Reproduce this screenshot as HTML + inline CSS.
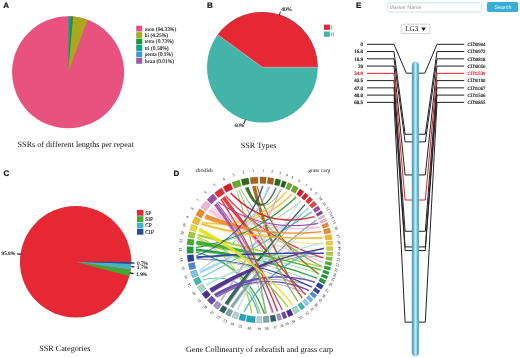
<!DOCTYPE html>
<html><head><meta charset="utf-8"><title>Figure</title>
<style>
html,body{margin:0;padding:0;background:#fff;}
body{width:520px;height:358px;overflow:hidden;font-family:"Liberation Serif",serif;}
svg{display:block;will-change:transform;opacity:0.999;}
svg text{text-rendering:geometricPrecision;}
</style></head><body>
<svg width="520" height="358" viewBox="0 0 520 358">
<rect width="520" height="358" fill="#fff"/>
<text x="3.2" y="8.1" font-family="Liberation Sans, sans-serif" font-weight="bold" font-size="8" fill="#111" stroke="#111" stroke-width="0.2">A</text>
<text x="207.0" y="7.6" font-family="Liberation Sans, sans-serif" font-weight="bold" font-size="8" fill="#111" stroke="#111" stroke-width="0.2">B</text>
<text x="3.4" y="176.2" font-family="Liberation Sans, sans-serif" font-weight="bold" font-size="8" fill="#111" stroke="#111" stroke-width="0.2">C</text>
<text x="173.5" y="175.8" font-family="Liberation Sans, sans-serif" font-weight="bold" font-size="8" fill="#111" stroke="#111" stroke-width="0.2">D</text>
<text x="355.9" y="7.6" font-family="Liberation Sans, sans-serif" font-weight="bold" font-size="8" fill="#111" stroke="#111" stroke-width="0.2">E</text>
<circle cx="68.1" cy="72.3" r="56.0" fill="#e8527f"/>
<path d="M68.10,72.30 L87.63,19.82 A56.0,56.0 0 0 0 73.09,16.52 Z" fill="#a8aa1c"/>
<path d="M68.10,72.30 L73.09,16.52 A56.0,56.0 0 0 0 70.53,16.35 Z" fill="#14963c"/>
<path d="M68.10,72.30 L70.53,16.35 A56.0,56.0 0 0 0 68.49,16.30 Z" fill="#12a07e"/>
<path d="M68.10,72.30 L68.49,16.30 A56.0,56.0 0 0 0 68.14,16.30 Z" fill="#3a9ad9"/>
<path d="M68.10,72.30 L68.14,16.30 A56.0,56.0 0 0 0 68.10,16.30 Z" fill="#9b59a8"/>
<rect x="136.2" y="25.70" width="6.0" height="5.8" fill="#e8527f"/>
<text x="144.8" y="30.50" font-family="Liberation Serif, serif" font-size="5.45" fill="#111" stroke="#111" stroke-width="0.1">mon (94.33%)</text>
<rect x="136.2" y="32.15" width="6.0" height="5.8" fill="#a8aa1c"/>
<text x="144.8" y="36.95" font-family="Liberation Serif, serif" font-size="5.45" fill="#111" stroke="#111" stroke-width="0.1">bi (4.25%)</text>
<rect x="136.2" y="38.60" width="6.0" height="5.8" fill="#14963c"/>
<text x="144.8" y="43.40" font-family="Liberation Serif, serif" font-size="5.45" fill="#111" stroke="#111" stroke-width="0.1">tetra (0.73%)</text>
<rect x="136.2" y="45.05" width="6.0" height="5.8" fill="#12a07e"/>
<text x="144.8" y="49.85" font-family="Liberation Serif, serif" font-size="5.45" fill="#111" stroke="#111" stroke-width="0.1">tri (0.58%)</text>
<rect x="136.2" y="51.50" width="6.0" height="5.8" fill="#3a9ad9"/>
<text x="144.8" y="56.30" font-family="Liberation Serif, serif" font-size="5.45" fill="#111" stroke="#111" stroke-width="0.1">penta (0.1%)</text>
<rect x="136.2" y="57.95" width="6.0" height="5.8" fill="#9b59a8"/>
<text x="144.8" y="62.75" font-family="Liberation Serif, serif" font-size="5.45" fill="#111" stroke="#111" stroke-width="0.1">hexa (0.01%)</text>
<text x="17.6" y="146.9" font-family="Liberation Serif, serif" font-size="8.15" fill="#111">SSRs of different lengths per repeat</text>
<circle cx="262.4" cy="67.25" r="55.35" fill="#45b4a8"/>
<path d="M262.40,67.25 L317.75,67.25 A55.35,55.35 0 0 0 217.62,34.72 Z" fill="#e52834"/>
<line x1="262.4" y1="67.25" x2="317.75" y2="67.25" stroke="#f3d9d6" stroke-width="0.5"/>
<line x1="262.4" y1="67.25" x2="217.62" y2="34.72" stroke="#f3d9d6" stroke-width="0.5"/>
<line x1="279.35" y1="15.08" x2="280.43" y2="11.76" stroke="#222" stroke-width="1.0"/>
<text x="281.3" y="10.9" font-family="Liberation Serif, serif" font-size="5.65" fill="#111" stroke="#111" stroke-width="0.12">40%</text>
<line x1="245.45" y1="119.42" x2="243.87" y2="124.27" stroke="#222" stroke-width="1.0"/>
<text x="234.5" y="126.9" font-family="Liberation Serif, serif" font-size="5.3" fill="#111" stroke="#111" stroke-width="0.12">60%</text>
<rect x="324" y="24.6" width="5.9" height="5.3" fill="#e52834"/>
<rect x="324" y="31.5" width="5.9" height="5.3" fill="#45b4a8"/>
<text x="330.9" y="29.3" font-family="Liberation Serif, serif" font-size="4.8" fill="#444">I</text>
<text x="330.9" y="36.0" font-family="Liberation Serif, serif" font-size="4.8" fill="#444">II</text>
<text x="240.8" y="147.9" font-family="Liberation Serif, serif" font-size="8.15" fill="#111">SSR Types</text>
<circle cx="75.6" cy="261.75" r="55.65" fill="#e52834"/>
<path d="M75.60,261.75 L129.32,276.27 A55.65,55.65 0 0 0 130.67,269.76 Z" fill="#46a630"/>
<path d="M75.60,261.75 L130.67,269.76 A55.65,55.65 0 0 0 131.21,263.85 Z" fill="#43b5c0"/>
<path d="M75.60,261.75 L131.21,263.85 A55.65,55.65 0 0 0 131.25,261.75 Z" fill="#2c4a9e"/>
<line x1="17.2" y1="253.9" x2="21.4" y2="254.2" stroke="#111" stroke-width="1.15"/>
<line x1="131.0" y1="263.0" x2="134.6" y2="263.0" stroke="#111" stroke-width="1.15"/>
<line x1="131.0" y1="266.8" x2="134.3" y2="266.9" stroke="#111" stroke-width="1.15"/>
<line x1="129.9" y1="272.9" x2="133.6" y2="273.6" stroke="#111" stroke-width="1.15"/>
<text x="1.5" y="255.4" font-family="Liberation Serif, serif" font-size="5.3" fill="#111" stroke="#111" stroke-width="0.12">95.8%</text>
<text x="137.0" y="264.7" font-family="Liberation Serif, serif" font-size="5.3" fill="#111" stroke="#111" stroke-width="0.12">0.7%</text>
<text x="137.0" y="268.8" font-family="Liberation Serif, serif" font-size="5.3" fill="#111" stroke="#111" stroke-width="0.12">1.7%</text>
<text x="136.2" y="275.9" font-family="Liberation Serif, serif" font-size="5.3" fill="#111" stroke="#111" stroke-width="0.12">1.9%</text>
<rect x="137.0" y="209.9" width="6.4" height="5.8" fill="#e52834"/>
<text x="145.2" y="214.65" font-family="Liberation Serif, serif" font-size="5.5" fill="#111" stroke="#111" stroke-width="0.1">SP</text>
<rect x="137.0" y="216.2" width="6.4" height="5.8" fill="#46a630"/>
<text x="145.2" y="220.95" font-family="Liberation Serif, serif" font-size="5.5" fill="#111" stroke="#111" stroke-width="0.1">SIP</text>
<rect x="137.0" y="222.55" width="6.4" height="5.8" fill="#43b5c0"/>
<text x="145.2" y="227.30" font-family="Liberation Serif, serif" font-size="5.5" fill="#111" stroke="#111" stroke-width="0.1">CP</text>
<rect x="137.0" y="228.9" width="6.4" height="5.8" fill="#2c4a9e"/>
<text x="145.2" y="233.65" font-family="Liberation Serif, serif" font-size="5.5" fill="#111" stroke="#111" stroke-width="0.1">CIP</text>
<text x="39.3" y="350.6" font-family="Liberation Serif, serif" font-size="8.15" fill="#111">SSR Categories</text>
<path d="M228.22,305.54 L230.78,301.80 L233.35,298.08 L235.95,294.38 L238.57,290.70 L241.22,287.04 L243.88,283.40 L246.57,279.78 L249.29,276.17 L252.02,272.59 L254.78,269.02 L257.56,265.47 L260.37,261.94 L263.19,258.43 L266.04,254.94 L268.92,251.47 L271.81,248.01 L274.73,244.58 L277.67,241.16 L280.64,237.76 L283.62,234.39 L286.63,231.03 L289.67,227.69 L292.72,224.36 L295.80,221.06 L298.90,217.77 L302.02,214.50 L305.16,211.25 L308.33,208.02 L307.83,207.53 L304.66,210.76 L301.52,214.02 L298.39,217.29 L295.29,220.58 L292.21,223.89 L289.16,227.22 L286.13,230.57 L283.12,233.94 L280.14,237.33 L277.18,240.73 L274.24,244.16 L271.32,247.60 L268.43,251.06 L265.56,254.54 L262.71,258.04 L259.88,261.56 L257.08,265.09 L254.30,268.65 L251.54,272.22 L248.81,275.81 L246.10,279.42 L243.41,283.05 L240.75,286.70 L238.10,290.37 L235.48,294.05 L232.89,297.76 L230.31,301.48 L227.76,305.22 Z" fill="#779795" fill-opacity="0.95" />
<path d="M195.90,251.58 L200.31,252.06 L204.71,252.58 L209.10,253.16 L213.47,253.78 L217.84,254.45 L222.18,255.17 L226.52,255.94 L230.84,256.76 L235.15,257.62 L239.45,258.54 L243.73,259.50 L248.00,260.51 L252.26,261.57 L256.51,262.68 L260.74,263.83 L264.96,265.04 L269.16,266.29 L273.35,267.59 L277.53,268.95 L281.70,270.35 L285.85,271.80 L289.99,273.30 L294.12,274.84 L298.23,276.43 L302.34,278.06 L306.43,279.74 L310.51,281.47 L314.57,283.25 L314.86,282.61 L310.78,280.83 L306.70,279.10 L302.60,277.41 L298.49,275.78 L294.37,274.19 L290.22,272.66 L286.07,271.18 L281.90,269.74 L277.73,268.36 L273.54,267.02 L269.33,265.73 L265.12,264.48 L260.89,263.29 L256.65,262.14 L252.39,261.05 L248.13,260.00 L243.85,259.00 L239.56,258.04 L235.25,257.14 L230.93,256.28 L226.60,255.47 L222.26,254.71 L217.91,254.00 L213.54,253.34 L209.16,252.73 L204.76,252.16 L200.36,251.64 L195.94,251.17 Z" fill="#6dbf7e" fill-opacity="0.95" />
<path d="M216.25,203.07 L218.92,206.67 L221.57,210.28 L224.18,213.92 L226.75,217.58 L229.29,221.25 L231.79,224.95 L234.26,228.67 L236.69,232.40 L239.08,236.16 L241.44,239.94 L243.77,243.74 L246.06,247.55 L248.31,251.39 L250.53,255.25 L252.71,259.13 L254.86,263.02 L256.97,266.94 L259.04,270.88 L261.08,274.84 L263.09,278.82 L265.05,282.82 L266.98,286.84 L268.88,290.88 L270.75,294.94 L272.58,299.01 L274.38,303.11 L276.15,307.23 L277.87,311.36 L278.52,311.10 L276.79,306.95 L275.02,302.83 L273.22,298.73 L271.39,294.65 L269.51,290.59 L267.60,286.55 L265.64,282.53 L263.66,278.53 L261.64,274.56 L259.58,270.60 L257.49,266.66 L255.36,262.75 L253.20,258.85 L251.01,254.98 L248.78,251.12 L246.51,247.28 L244.21,243.47 L241.87,239.67 L239.50,235.90 L237.09,232.14 L234.65,228.41 L232.17,224.69 L229.66,221.00 L227.11,217.32 L224.53,213.67 L221.91,210.03 L219.26,206.42 L216.57,202.83 Z" fill="#c18cc6" fill-opacity="0.95" />
<path d="M204.06,218.72 L208.17,220.25 L212.28,221.72 L216.41,223.13 L220.55,224.48 L224.69,225.77 L228.85,227.00 L233.02,228.17 L237.19,229.28 L241.38,230.33 L245.58,231.31 L249.79,232.24 L254.00,233.11 L258.23,233.92 L262.47,234.66 L266.72,235.35 L270.98,235.98 L275.25,236.54 L279.52,237.05 L283.81,237.49 L288.11,237.88 L292.42,238.20 L296.74,238.47 L301.07,238.67 L305.41,238.81 L309.76,238.89 L314.12,238.92 L318.49,238.88 L322.87,238.78 L322.85,238.08 L318.48,238.18 L314.12,238.22 L309.77,238.20 L305.43,238.11 L301.10,237.97 L296.78,237.77 L292.47,237.51 L288.17,237.19 L283.88,236.81 L279.60,236.37 L275.33,235.86 L271.07,235.30 L266.82,234.68 L262.58,234.00 L258.35,233.25 L254.13,232.45 L249.93,231.59 L245.73,230.66 L241.54,229.68 L237.36,228.63 L233.19,227.53 L229.03,226.36 L224.88,225.14 L220.75,223.85 L216.62,222.51 L212.50,221.10 L208.39,219.64 L204.30,218.11 Z" fill="#f5b275" fill-opacity="0.95" />
<path d="M196.60,259.49 L200.88,259.68 L205.13,259.93 L209.37,260.25 L213.59,260.65 L217.78,261.11 L221.96,261.65 L226.12,262.26 L230.25,262.94 L234.37,263.69 L238.46,264.51 L242.53,265.40 L246.59,266.36 L250.62,267.40 L254.63,268.51 L258.63,269.68 L262.60,270.93 L266.55,272.25 L270.48,273.64 L274.39,275.11 L278.28,276.64 L282.15,278.25 L285.99,279.93 L289.82,281.68 L293.63,283.49 L297.42,285.37 L301.20,287.32 L304.95,289.34 L308.68,291.43 L309.03,290.82 L305.29,288.72 L301.52,286.70 L297.74,284.74 L293.94,282.86 L290.11,281.04 L286.27,279.31 L282.40,277.66 L278.51,276.07 L274.60,274.56 L270.67,273.11 L266.73,271.74 L262.76,270.43 L258.77,269.20 L254.77,268.03 L250.74,266.94 L246.70,265.92 L242.63,264.97 L238.55,264.09 L234.44,263.29 L230.32,262.55 L226.17,261.88 L222.01,261.29 L217.82,260.76 L213.62,260.31 L209.40,259.93 L205.15,259.62 L200.89,259.38 L196.61,259.21 Z" fill="#7582bf" fill-opacity="0.95" />
<path d="M197.02,237.77 L200.43,239.52 L203.76,241.34 L207.00,243.23 L210.15,245.19 L213.21,247.23 L216.18,249.34 L219.06,251.52 L221.85,253.77 L224.55,256.10 L227.16,258.50 L229.69,260.97 L232.12,263.51 L234.47,266.12 L236.72,268.81 L238.89,271.57 L240.96,274.40 L242.95,277.30 L244.85,280.28 L246.66,283.33 L248.38,286.45 L250.01,289.64 L251.54,292.90 L252.99,296.24 L254.37,299.64 L255.65,303.12 L256.85,306.67 L257.96,310.29 L258.97,313.99 L259.65,313.81 L258.63,310.10 L257.51,306.46 L256.31,302.89 L255.02,299.39 L253.64,295.97 L252.16,292.62 L250.58,289.35 L248.92,286.15 L247.18,283.03 L245.34,279.97 L243.42,276.99 L241.41,274.09 L239.30,271.25 L237.12,268.49 L234.84,265.80 L232.47,263.18 L230.02,260.64 L227.47,258.17 L224.84,255.77 L222.12,253.45 L219.31,251.20 L216.41,249.02 L213.42,246.92 L210.35,244.88 L207.18,242.92 L203.93,241.04 L200.59,239.22 L197.16,237.48 Z" fill="#c3df74" fill-opacity="0.95" />
<path d="M221.43,198.76 L224.24,202.36 L227.05,205.96 L229.87,209.56 L232.69,213.15 L235.52,216.73 L238.36,220.31 L241.20,223.89 L244.05,227.46 L246.91,231.02 L249.77,234.58 L252.64,238.14 L255.51,241.69 L258.39,245.23 L261.28,248.77 L264.17,252.31 L267.07,255.84 L269.97,259.36 L272.88,262.88 L275.80,266.40 L278.72,269.91 L281.65,273.41 L284.58,276.92 L287.52,280.41 L290.48,283.90 L293.43,287.38 L296.40,290.85 L299.37,294.33 L302.34,297.79 L302.88,297.34 L299.90,293.87 L296.93,290.40 L293.97,286.93 L291.01,283.44 L288.06,279.96 L285.11,276.47 L282.17,272.98 L279.23,269.48 L276.30,265.98 L273.38,262.47 L270.46,258.96 L267.55,255.44 L264.64,251.92 L261.75,248.39 L258.85,244.86 L255.97,241.32 L253.09,237.77 L250.22,234.22 L247.35,230.67 L244.49,227.11 L241.64,223.54 L238.79,219.97 L235.95,216.40 L233.11,212.82 L230.29,209.23 L227.46,205.64 L224.65,202.04 L221.84,198.44 Z" fill="#ea787d" fill-opacity="0.95" />
<path d="M201.85,223.03 L205.65,223.64 L209.41,224.13 L213.14,224.52 L216.85,224.79 L220.53,224.95 L224.17,225.00 L227.79,224.94 L231.38,224.77 L234.94,224.48 L238.48,224.09 L241.98,223.58 L245.45,222.96 L248.89,222.24 L252.31,221.39 L255.70,220.44 L259.05,219.38 L262.38,218.21 L265.68,216.92 L268.95,215.52 L272.19,214.02 L275.41,212.40 L278.59,210.67 L281.75,208.83 L284.86,206.86 L287.95,204.79 L291.01,202.60 L294.04,200.30 L297.04,197.89 L296.59,197.35 L293.61,199.75 L290.60,202.03 L287.55,204.21 L284.48,206.28 L281.38,208.23 L278.26,210.08 L275.11,211.83 L271.92,213.47 L268.71,214.99 L265.47,216.40 L262.19,217.70 L258.89,218.88 L255.55,219.96 L252.18,220.92 L248.79,221.78 L245.36,222.52 L241.91,223.15 L238.42,223.67 L234.90,224.08 L231.36,224.38 L227.78,224.57 L224.17,224.64 L220.54,224.61 L216.87,224.46 L213.17,224.20 L209.44,223.83 L205.69,223.35 L201.90,222.76 Z" fill="#fad06e" fill-opacity="0.95" />
<path d="M196.05,245.25 L200.53,245.92 L205.01,246.62 L209.47,247.34 L213.94,248.09 L218.40,248.87 L222.85,249.67 L227.29,250.50 L231.73,251.36 L236.16,252.24 L240.59,253.15 L245.01,254.08 L249.42,255.05 L253.83,256.03 L258.23,257.05 L262.63,258.09 L267.02,259.16 L271.40,260.25 L275.78,261.37 L280.15,262.52 L284.51,263.69 L288.87,264.89 L293.22,266.12 L297.57,267.38 L301.91,268.65 L306.24,269.96 L310.57,271.29 L314.89,272.64 L319.20,274.03 L319.42,273.36 L315.10,271.98 L310.78,270.62 L306.44,269.29 L302.11,267.98 L297.76,266.70 L293.41,265.45 L289.05,264.23 L284.69,263.03 L280.32,261.86 L275.94,260.72 L271.56,259.60 L267.18,258.51 L262.78,257.45 L258.38,256.41 L253.98,255.39 L249.56,254.41 L245.15,253.45 L240.72,252.51 L236.29,251.61 L231.85,250.73 L227.41,249.87 L222.96,249.05 L218.51,248.24 L214.04,247.47 L209.58,246.72 L205.10,246.00 L200.62,245.30 L196.14,244.63 Z" fill="#82ca77" fill-opacity="0.95" />
<path d="M210.96,208.74 L214.67,210.72 L218.39,212.62 L222.13,214.43 L225.89,216.16 L229.67,217.81 L233.47,219.38 L237.28,220.87 L241.11,222.27 L244.96,223.59 L248.83,224.83 L252.72,225.98 L256.62,227.06 L260.55,228.05 L264.49,228.96 L268.45,229.79 L272.42,230.53 L276.42,231.19 L280.43,231.77 L284.46,232.27 L288.51,232.69 L292.58,233.02 L296.67,233.28 L300.77,233.45 L304.90,233.53 L309.04,233.53 L313.20,233.45 L317.37,233.28 L321.57,233.04 L321.52,232.34 L317.34,232.59 L313.17,232.75 L309.03,232.83 L304.90,232.83 L300.79,232.75 L296.70,232.59 L292.63,232.35 L288.58,232.02 L284.54,231.62 L280.52,231.13 L276.52,230.56 L272.53,229.90 L268.57,229.17 L264.62,228.35 L260.69,227.45 L256.78,226.46 L252.88,225.40 L249.01,224.25 L245.15,223.02 L241.31,221.71 L237.49,220.31 L233.68,218.84 L229.90,217.28 L226.13,215.64 L222.38,213.92 L218.64,212.11 L214.93,210.22 L211.23,208.25 Z" fill="#f9d9e9" fill-opacity="0.95" />
<path d="M198.40,232.00 L202.21,233.96 L205.97,235.98 L209.68,238.05 L213.34,240.18 L216.96,242.37 L220.52,244.61 L224.04,246.91 L227.52,249.26 L230.94,251.67 L234.32,254.13 L237.64,256.65 L240.92,259.23 L244.16,261.86 L247.34,264.54 L250.48,267.28 L253.57,270.08 L256.61,272.94 L259.60,275.85 L262.55,278.81 L265.45,281.83 L268.29,284.91 L271.09,288.04 L273.85,291.23 L276.56,294.47 L279.22,297.76 L281.83,301.12 L284.40,304.52 L286.92,307.99 L287.49,307.58 L284.96,304.11 L282.39,300.69 L279.77,297.33 L277.10,294.02 L274.38,290.77 L271.61,287.58 L268.80,284.45 L265.94,281.37 L263.02,278.34 L260.07,275.38 L257.06,272.46 L254.01,269.61 L250.91,266.80 L247.76,264.06 L244.56,261.37 L241.32,258.74 L238.02,256.16 L234.68,253.64 L231.30,251.17 L227.86,248.76 L224.38,246.40 L220.85,244.11 L217.27,241.86 L213.64,239.67 L209.97,237.54 L206.25,235.47 L202.48,233.45 L198.66,231.48 Z" fill="#eeea6e" fill-opacity="0.95" />
<path d="M233.39,308.19 L235.83,304.56 L238.30,300.98 L240.82,297.44 L243.39,293.94 L246.00,290.49 L248.65,287.08 L251.35,283.71 L254.09,280.39 L256.87,277.11 L259.70,273.88 L262.57,270.68 L265.49,267.54 L268.45,264.43 L271.45,261.37 L274.50,258.36 L277.59,255.39 L280.72,252.46 L283.90,249.57 L287.12,246.73 L290.39,243.94 L293.70,241.19 L297.06,238.48 L300.46,235.82 L303.90,233.19 L307.38,230.61 L310.90,228.07 L314.47,225.57 L318.09,223.12 L317.70,222.54 L314.08,224.99 L310.50,227.50 L306.96,230.04 L303.48,232.63 L300.03,235.26 L296.63,237.95 L293.28,240.67 L289.97,243.44 L286.71,246.26 L283.49,249.11 L280.31,252.01 L277.18,254.95 L274.09,257.94 L271.04,260.97 L268.04,264.04 L265.08,267.16 L262.17,270.32 L259.30,273.52 L256.47,276.77 L253.69,280.06 L250.95,283.39 L248.26,286.77 L245.61,290.19 L243.00,293.65 L240.44,297.16 L237.92,300.71 L235.44,304.30 L233.01,307.94 Z" fill="#abc6c6" fill-opacity="0.95" />
<path d="M208.25,212.15 L212.10,214.50 L215.97,216.81 L219.86,219.10 L223.76,221.35 L227.67,223.57 L231.60,225.76 L235.54,227.92 L239.50,230.05 L243.48,232.15 L247.47,234.22 L251.47,236.25 L255.49,238.26 L259.52,240.23 L263.57,242.18 L267.63,244.09 L271.70,245.97 L275.80,247.82 L279.90,249.65 L284.02,251.43 L288.16,253.19 L292.31,254.92 L296.47,256.62 L300.65,258.29 L304.85,259.92 L309.06,261.52 L313.28,263.09 L317.52,264.63 L321.78,266.13 L322.01,265.47 L317.76,263.97 L313.52,262.43 L309.30,260.86 L305.10,259.26 L300.91,257.64 L296.73,255.98 L292.57,254.29 L288.42,252.58 L284.28,250.83 L280.16,249.05 L276.06,247.23 L271.97,245.39 L267.89,243.52 L263.83,241.61 L259.79,239.68 L255.76,237.71 L251.74,235.71 L247.74,233.68 L243.75,231.62 L239.78,229.53 L235.83,227.41 L231.88,225.25 L227.95,223.07 L224.04,220.85 L220.14,218.61 L216.26,216.33 L212.39,214.02 L208.54,211.68 Z" fill="#f9d9e9" fill-opacity="0.95" />
<path d="M217.28,202.22 L220.61,204.47 L223.96,206.61 L227.34,208.66 L230.75,210.61 L234.18,212.47 L237.63,214.22 L241.11,215.88 L244.62,217.43 L248.14,218.89 L251.70,220.25 L255.28,221.51 L258.88,222.68 L262.51,223.74 L266.16,224.71 L269.84,225.58 L273.54,226.35 L277.27,227.02 L281.02,227.59 L284.80,228.06 L288.60,228.44 L292.42,228.72 L296.27,228.90 L300.15,228.98 L304.05,228.96 L307.98,228.83 L311.93,228.61 L315.90,228.28 L319.90,227.86 L319.82,227.17 L315.83,227.59 L311.88,227.91 L307.94,228.13 L304.04,228.26 L300.15,228.28 L296.30,228.22 L292.46,228.06 L288.65,227.80 L284.86,227.45 L281.10,226.99 L277.36,226.43 L273.65,225.78 L269.96,225.02 L266.29,224.17 L262.65,223.22 L259.03,222.17 L255.44,221.02 L251.87,219.78 L248.33,218.43 L244.81,216.99 L241.31,215.45 L237.84,213.80 L234.39,212.06 L230.96,210.23 L227.56,208.29 L224.19,206.25 L220.84,204.12 L217.51,201.89 Z" fill="#c18cc6" fill-opacity="0.95" />
<path d="M220.09,199.76 L222.45,203.56 L224.77,207.38 L227.06,211.21 L229.31,215.07 L231.51,218.94 L233.68,222.83 L235.82,226.74 L237.91,230.66 L239.96,234.61 L241.98,238.57 L243.95,242.54 L245.89,246.54 L247.79,250.55 L249.65,254.58 L251.47,258.63 L253.25,262.70 L255.00,266.78 L256.70,270.88 L258.37,275.00 L259.99,279.14 L261.58,283.29 L263.13,287.46 L264.64,291.65 L266.12,295.86 L267.55,300.08 L268.96,304.32 L270.32,308.58 L271.64,312.85 L272.31,312.65 L270.98,308.37 L269.62,304.10 L268.22,299.86 L266.78,295.63 L265.30,291.42 L263.77,287.23 L262.21,283.05 L260.61,278.90 L258.97,274.76 L257.29,270.64 L255.58,266.53 L253.82,262.45 L252.03,258.38 L250.20,254.33 L248.33,250.30 L246.42,246.28 L244.47,242.29 L242.49,238.31 L240.47,234.35 L238.40,230.40 L236.30,226.47 L234.16,222.57 L231.99,218.67 L229.77,214.80 L227.52,210.95 L225.22,207.11 L222.89,203.29 L220.52,199.48 Z" fill="#ea787d" fill-opacity="0.95" />
<path d="M199.48,270.89 L203.05,268.71 L206.55,266.48 L209.99,264.18 L213.37,261.83 L216.68,259.41 L219.93,256.94 L223.11,254.42 L226.23,251.83 L229.29,249.18 L232.28,246.48 L235.21,243.72 L238.08,240.90 L240.88,238.02 L243.62,235.08 L246.30,232.09 L248.91,229.04 L251.46,225.93 L253.95,222.76 L256.37,219.53 L258.73,216.25 L261.03,212.90 L263.26,209.50 L265.43,206.04 L267.53,202.52 L269.56,198.94 L271.53,195.30 L273.44,191.60 L275.28,187.85 L274.65,187.55 L272.81,191.29 L270.91,194.97 L268.95,198.60 L266.92,202.17 L264.83,205.68 L262.69,209.14 L260.48,212.54 L258.21,215.88 L255.87,219.17 L253.47,222.39 L251.01,225.56 L248.48,228.67 L245.88,231.73 L243.22,234.72 L240.50,237.66 L237.71,240.54 L234.86,243.36 L231.95,246.12 L228.97,248.82 L225.93,251.47 L222.82,254.06 L219.65,256.59 L216.42,259.07 L213.12,261.48 L209.76,263.84 L206.33,266.14 L202.84,268.38 L199.29,270.57 Z" fill="#c3e3f3" fill-opacity="0.95" />
<path d="M217.38,297.82 L220.48,295.96 L223.59,294.23 L226.70,292.63 L229.82,291.16 L232.94,289.82 L236.06,288.60 L239.19,287.52 L242.32,286.56 L245.46,285.73 L248.60,285.03 L251.75,284.46 L254.90,284.02 L258.06,283.71 L261.22,283.53 L264.38,283.47 L267.55,283.55 L270.73,283.75 L273.91,284.08 L277.09,284.54 L280.28,285.13 L283.48,285.85 L286.67,286.70 L289.88,287.67 L293.09,288.77 L296.31,290.00 L299.53,291.35 L302.76,292.83 L305.99,294.45 L306.31,293.83 L303.06,292.20 L299.81,290.71 L296.57,289.35 L293.33,288.11 L290.09,287.01 L286.86,286.04 L283.63,285.20 L280.41,284.49 L277.20,283.91 L273.99,283.46 L270.78,283.14 L267.58,282.94 L264.39,282.88 L261.20,282.94 L258.01,283.14 L254.83,283.46 L251.66,283.92 L248.50,284.50 L245.33,285.21 L242.18,286.05 L239.03,287.02 L235.88,288.12 L232.74,289.35 L229.61,290.71 L226.48,292.19 L223.36,293.81 L220.25,295.55 L217.13,297.43 Z" fill="#9c88c6" fill-opacity="0.95" />
<path d="M196.48,258.58 L201.02,258.24 L205.55,257.93 L210.08,257.63 L214.62,257.36 L219.15,257.12 L223.68,256.89 L228.22,256.69 L232.75,256.51 L237.28,256.35 L241.82,256.21 L246.35,256.10 L250.89,256.01 L255.42,255.94 L259.96,255.90 L264.49,255.87 L269.03,255.87 L273.56,255.89 L278.10,255.94 L282.63,256.01 L287.17,256.10 L291.70,256.21 L296.24,256.36 L300.77,256.51 L305.31,256.68 L309.85,256.87 L314.38,257.09 L318.92,257.32 L323.46,257.58 L323.50,256.88 L318.96,256.62 L314.42,256.39 L309.88,256.17 L305.34,255.98 L300.80,255.81 L296.26,255.68 L291.72,255.57 L287.18,255.49 L282.64,255.42 L278.10,255.37 L273.56,255.35 L269.03,255.35 L264.49,255.37 L259.95,255.41 L255.42,255.47 L250.88,255.55 L246.34,255.66 L241.81,255.79 L237.27,255.94 L232.74,256.11 L228.20,256.31 L223.66,256.53 L219.13,256.77 L214.60,257.03 L210.06,257.31 L205.53,257.62 L200.99,257.95 L196.46,258.30 Z" fill="#7582bf" fill-opacity="0.95" />
<path d="M195.96,248.38 L200.15,247.66 L204.31,246.87 L208.44,246.00 L212.54,245.07 L216.61,244.06 L220.64,242.98 L224.64,241.83 L228.62,240.61 L232.56,239.32 L236.46,237.96 L240.34,236.52 L244.19,235.02 L248.00,233.44 L251.78,231.80 L255.53,230.08 L259.25,228.29 L262.94,226.43 L266.59,224.50 L270.22,222.50 L273.81,220.43 L277.37,218.28 L280.90,216.07 L284.40,213.79 L287.86,211.42 L291.29,208.99 L294.69,206.48 L298.05,203.90 L301.39,201.25 L300.95,200.71 L297.62,203.35 L294.27,205.92 L290.88,208.42 L287.46,210.85 L284.01,213.20 L280.53,215.50 L277.02,217.72 L273.48,219.88 L269.91,221.96 L266.30,223.97 L262.66,225.91 L258.99,227.77 L255.29,229.57 L251.55,231.29 L247.79,232.95 L243.99,234.53 L240.16,236.04 L236.29,237.48 L232.40,238.85 L228.47,240.15 L224.51,241.38 L220.52,242.53 L216.49,243.62 L212.44,244.63 L208.35,245.58 L204.23,246.45 L200.07,247.25 L195.89,247.98 Z" fill="#6dbf7e" fill-opacity="0.95" />
<path d="M196.26,256.37 L199.91,254.97 L203.49,253.48 L206.99,251.92 L210.41,250.28 L213.76,248.56 L217.04,246.75 L220.24,244.87 L223.36,242.91 L226.41,240.86 L229.38,238.74 L232.28,236.54 L235.10,234.25 L237.85,231.89 L240.52,229.45 L243.12,226.92 L245.64,224.32 L248.09,221.63 L250.46,218.87 L252.76,216.02 L254.98,213.10 L257.13,210.10 L259.20,207.01 L261.20,203.85 L263.11,200.60 L264.94,197.26 L266.70,193.85 L268.38,190.36 L269.98,186.79 L269.34,186.51 L267.74,190.06 L266.07,193.54 L264.32,196.94 L262.50,200.25 L260.60,203.49 L258.63,206.65 L256.60,209.73 L254.48,212.74 L252.29,215.66 L250.02,218.51 L247.68,221.27 L245.26,223.96 L242.76,226.56 L240.18,229.09 L237.54,231.54 L234.81,233.91 L232.01,236.19 L229.13,238.40 L226.18,240.53 L223.15,242.58 L220.04,244.55 L216.86,246.44 L213.60,248.25 L210.26,249.98 L206.85,251.63 L203.37,253.20 L199.80,254.69 L196.17,256.11 Z" fill="#7582bf" fill-opacity="0.95" />
<path d="M200.51,273.73 L204.64,271.81 L208.75,269.88 L212.86,267.93 L216.95,265.96 L221.04,263.97 L225.11,261.96 L229.18,259.93 L233.23,257.89 L237.27,255.82 L241.31,253.74 L245.33,251.63 L249.34,249.51 L253.34,247.37 L257.34,245.21 L261.32,243.03 L265.29,240.83 L269.25,238.61 L273.20,236.38 L277.14,234.12 L281.07,231.85 L284.99,229.56 L288.91,227.25 L292.81,224.92 L296.69,222.56 L300.57,220.18 L304.43,217.79 L308.28,215.37 L312.13,212.94 L311.75,212.35 L307.91,214.78 L304.06,217.19 L300.20,219.59 L296.33,221.96 L292.45,224.32 L288.56,226.66 L284.66,228.99 L280.75,231.30 L276.83,233.59 L272.90,235.86 L268.96,238.10 L265.01,240.33 L261.05,242.54 L257.08,244.73 L253.09,246.90 L249.10,249.05 L245.10,251.19 L241.08,253.30 L237.05,255.39 L233.02,257.47 L228.97,259.53 L224.91,261.56 L220.85,263.58 L216.77,265.58 L212.68,267.56 L208.58,269.52 L204.47,271.46 L200.35,273.38 Z" fill="#c3e3f3" fill-opacity="0.95" />
<path d="M197.33,236.44 L201.76,237.53 L206.19,238.64 L210.62,239.75 L215.04,240.88 L219.46,242.01 L223.88,243.15 L228.30,244.31 L232.71,245.47 L237.12,246.64 L241.53,247.83 L245.94,249.02 L250.34,250.22 L254.74,251.43 L259.14,252.66 L263.53,253.89 L267.92,255.13 L272.31,256.38 L276.69,257.65 L281.08,258.92 L285.46,260.21 L289.83,261.50 L294.21,262.81 L298.58,264.12 L302.95,265.43 L307.32,266.76 L311.68,268.09 L316.05,269.43 L320.41,270.78 L320.62,270.11 L316.25,268.76 L311.89,267.42 L307.52,266.09 L303.15,264.76 L298.78,263.45 L294.40,262.16 L290.01,260.88 L285.63,259.61 L281.24,258.35 L276.85,257.09 L272.46,255.85 L268.07,254.61 L263.67,253.38 L259.27,252.17 L254.87,250.96 L250.46,249.76 L246.06,248.57 L241.65,247.39 L237.23,246.22 L232.82,245.06 L228.40,243.91 L223.98,242.77 L219.56,241.64 L215.13,240.52 L210.70,239.41 L206.27,238.30 L201.84,237.21 L197.40,236.13 Z" fill="#c3df74" fill-opacity="0.95" />
<path d="M213.96,205.29 L216.58,208.81 L219.13,212.35 L221.64,215.91 L224.09,219.50 L226.48,223.12 L228.82,226.76 L231.11,230.43 L233.34,234.13 L235.52,237.86 L237.64,241.61 L239.71,245.38 L241.72,249.18 L243.68,253.01 L245.58,256.87 L247.43,260.75 L249.23,264.66 L250.97,268.59 L252.65,272.56 L254.28,276.54 L255.86,280.56 L257.38,284.60 L258.84,288.67 L260.25,292.76 L261.61,296.88 L262.92,301.02 L264.18,305.19 L265.38,309.39 L266.53,313.61 L267.21,313.43 L266.06,309.20 L264.85,304.99 L263.59,300.81 L262.28,296.66 L260.91,292.54 L259.48,288.44 L257.99,284.37 L256.45,280.33 L254.86,276.31 L253.21,272.32 L251.51,268.36 L249.75,264.42 L247.94,260.51 L246.08,256.63 L244.16,252.77 L242.19,248.94 L240.16,245.14 L238.08,241.36 L235.95,237.61 L233.76,233.88 L231.51,230.19 L229.22,226.52 L226.86,222.87 L224.46,219.25 L222.00,215.66 L219.48,212.10 L216.91,208.56 L214.29,205.05 Z" fill="#c18cc6" fill-opacity="0.95" />
<path d="M212.31,292.78 L215.99,290.50 L219.70,288.28 L223.42,286.13 L227.17,284.04 L230.94,282.02 L234.73,280.06 L238.54,278.16 L242.38,276.32 L246.24,274.55 L250.12,272.84 L254.03,271.20 L257.96,269.62 L261.91,268.10 L265.88,266.64 L269.88,265.25 L273.89,263.93 L277.94,262.66 L282.00,261.46 L286.09,260.33 L290.20,259.26 L294.33,258.25 L298.48,257.30 L302.66,256.42 L306.86,255.60 L311.08,254.84 L315.33,254.15 L319.60,253.52 L323.89,252.96 L323.80,252.26 L319.50,252.83 L315.22,253.46 L310.96,254.15 L306.73,254.91 L302.52,255.73 L298.33,256.62 L294.17,257.57 L290.03,258.58 L285.91,259.66 L281.81,260.80 L277.74,262.01 L273.69,263.28 L269.66,264.61 L265.65,266.00 L261.67,267.46 L257.71,268.99 L253.77,270.57 L249.86,272.22 L245.96,273.94 L242.10,275.71 L238.25,277.55 L234.43,279.46 L230.62,281.43 L226.85,283.46 L223.09,285.55 L219.36,287.71 L215.65,289.93 L211.96,292.22 Z" fill="#8976b4" fill-opacity="0.95" />
<path d="M197.09,237.46 L200.90,239.15 L204.65,240.91 L208.35,242.74 L211.99,244.63 L215.58,246.59 L219.11,248.61 L222.58,250.70 L226.00,252.86 L229.36,255.08 L232.67,257.37 L235.91,259.72 L239.11,262.14 L242.25,264.63 L245.33,267.18 L248.35,269.80 L251.32,272.48 L254.23,275.23 L257.09,278.05 L259.89,280.93 L262.63,283.88 L265.32,286.90 L267.95,289.98 L270.52,293.13 L273.05,296.33 L275.52,299.60 L277.94,302.94 L280.30,306.35 L282.61,309.81 L283.19,309.43 L280.88,305.95 L278.51,302.54 L276.09,299.19 L273.60,295.91 L271.07,292.69 L268.47,289.55 L265.80,286.47 L263.09,283.46 L260.32,280.52 L257.50,277.64 L254.62,274.83 L251.69,272.08 L248.70,269.41 L245.65,266.79 L242.56,264.25 L239.40,261.76 L236.19,259.35 L232.92,257.00 L229.60,254.72 L226.23,252.50 L222.79,250.36 L219.31,248.27 L215.76,246.26 L212.16,244.31 L208.51,242.42 L204.80,240.60 L201.03,238.85 L197.21,237.17 Z" fill="#c3df74" fill-opacity="0.95" />
<path d="M200.95,225.01 L205.24,226.28 L209.54,227.51 L213.84,228.69 L218.15,229.84 L222.46,230.93 L226.78,231.99 L231.11,233.00 L235.45,233.97 L239.79,234.89 L244.14,235.77 L248.49,236.61 L252.86,237.40 L257.23,238.15 L261.60,238.86 L265.99,239.52 L270.38,240.14 L274.78,240.72 L279.18,241.25 L283.59,241.74 L288.01,242.19 L292.43,242.59 L296.86,242.96 L301.30,243.28 L305.75,243.54 L310.20,243.75 L314.66,243.93 L319.13,244.06 L323.60,244.14 L323.61,243.44 L319.15,243.36 L314.69,243.23 L310.23,243.06 L305.79,242.84 L301.35,242.58 L296.91,242.29 L292.49,241.96 L288.07,241.58 L283.65,241.16 L279.24,240.69 L274.84,240.18 L270.45,239.62 L266.06,239.02 L261.68,238.38 L257.30,237.69 L252.94,236.95 L248.57,236.18 L244.22,235.36 L239.87,234.49 L235.53,233.59 L231.19,232.63 L226.87,231.64 L222.54,230.60 L218.23,229.52 L213.92,228.39 L209.62,227.22 L205.32,226.00 L201.03,224.74 Z" fill="#fad06e" fill-opacity="0.95" />
<path d="M244.70,187.78 L245.89,190.18 L247.08,192.41 L248.28,194.47 L249.49,196.35 L250.71,198.07 L251.95,199.61 L253.19,200.99 L254.45,202.19 L255.72,203.23 L257.01,204.09 L258.31,204.78 L259.62,205.30 L260.95,205.64 L262.29,205.80 L263.64,205.79 L265.00,205.60 L266.36,205.24 L267.73,204.70 L269.11,203.99 L270.50,203.10 L271.89,202.05 L273.29,200.82 L274.69,199.42 L276.10,197.85 L277.51,196.10 L278.93,194.18 L280.36,192.10 L281.80,189.84 L281.20,189.47 L279.78,191.71 L278.36,193.78 L276.96,195.67 L275.56,197.39 L274.18,198.94 L272.81,200.32 L271.46,201.53 L270.12,202.57 L268.79,203.43 L267.47,204.13 L266.16,204.65 L264.87,205.00 L263.59,205.19 L262.32,205.21 L261.05,205.06 L259.80,204.75 L258.54,204.26 L257.30,203.61 L256.05,202.78 L254.81,201.78 L253.58,200.61 L252.35,199.27 L251.13,197.75 L249.92,196.06 L248.71,194.20 L247.52,192.16 L246.33,189.95 L245.15,187.57 Z" fill="#779e6c" fill-opacity="0.95" />
<path d="M216.25,296.79 L219.52,294.86 L222.80,293.05 L226.09,291.35 L229.39,289.77 L232.70,288.31 L236.03,286.97 L239.37,285.74 L242.72,284.63 L246.08,283.64 L249.45,282.76 L252.84,282.01 L256.23,281.36 L259.64,280.84 L263.06,280.43 L266.49,280.14 L269.94,279.96 L273.39,279.91 L276.86,279.97 L280.34,280.14 L283.83,280.44 L287.33,280.85 L290.84,281.38 L294.37,282.02 L297.91,282.78 L301.46,283.65 L305.03,284.64 L308.60,285.74 L312.19,286.96 L312.43,286.30 L308.82,285.07 L305.22,283.96 L301.64,282.97 L298.07,282.09 L294.51,281.34 L290.95,280.70 L287.42,280.19 L283.89,279.79 L280.38,279.51 L276.88,279.34 L273.39,279.29 L269.91,279.36 L266.45,279.55 L263.00,279.85 L259.56,280.27 L256.14,280.81 L252.72,281.46 L249.32,282.23 L245.93,283.12 L242.56,284.13 L239.20,285.25 L235.84,286.49 L232.51,287.85 L229.18,289.32 L225.87,290.91 L222.57,292.62 L219.28,294.45 L216.00,296.39 Z" fill="#9c88c6" fill-opacity="0.95" />
<path d="M224.74,196.47 L227.71,199.62 L230.71,202.70 L233.75,205.73 L236.84,208.69 L239.96,211.60 L243.12,214.46 L246.32,217.25 L249.56,219.99 L252.84,222.67 L256.16,225.29 L259.51,227.85 L262.91,230.36 L266.34,232.81 L269.82,235.20 L273.33,237.53 L276.88,239.80 L280.47,242.02 L284.10,244.18 L287.77,246.28 L291.48,248.33 L295.23,250.31 L299.02,252.25 L302.84,254.12 L306.71,255.92 L310.62,257.67 L314.56,259.37 L318.55,261.00 L322.57,262.58 L322.82,261.92 L318.81,260.35 L314.83,258.72 L310.90,257.03 L307.00,255.29 L303.14,253.48 L299.32,251.63 L295.54,249.72 L291.80,247.75 L288.09,245.72 L284.43,243.63 L280.80,241.48 L277.21,239.28 L273.66,237.02 L270.16,234.70 L266.68,232.32 L263.25,229.88 L259.86,227.39 L256.51,224.84 L253.19,222.23 L249.92,219.56 L246.68,216.83 L243.48,214.05 L240.32,211.21 L237.20,208.31 L234.12,205.35 L231.08,202.33 L228.08,199.26 L225.11,196.13 Z" fill="#ea787d" fill-opacity="0.95" />
<path d="M195.91,252.91 L199.41,253.83 L202.82,254.85 L206.13,255.96 L209.36,257.16 L212.50,258.46 L215.55,259.85 L218.51,261.33 L221.38,262.90 L224.16,264.57 L226.85,266.34 L229.45,268.19 L231.96,270.14 L234.39,272.18 L236.72,274.32 L238.96,276.55 L241.12,278.87 L243.19,281.28 L245.16,283.79 L247.05,286.39 L248.85,289.09 L250.56,291.88 L252.18,294.76 L253.71,297.74 L255.16,300.80 L256.52,303.96 L257.80,307.21 L258.98,310.56 L260.08,314.00 L260.75,313.80 L259.65,310.34 L258.45,306.97 L257.17,303.69 L255.80,300.51 L254.34,297.43 L252.78,294.44 L251.13,291.54 L249.39,288.74 L247.56,286.04 L245.65,283.43 L243.64,280.91 L241.55,278.48 L239.37,276.15 L237.10,273.92 L234.74,271.78 L232.29,269.73 L229.76,267.78 L227.13,265.92 L224.42,264.15 L221.62,262.48 L218.73,260.91 L215.75,259.43 L212.68,258.04 L209.52,256.75 L206.28,255.55 L202.94,254.44 L199.52,253.43 L196.01,252.51 Z" fill="#6dbf7e" fill-opacity="0.95" />
<path d="M200.44,273.34 L204.54,271.40 L208.61,269.43 L212.68,267.44 L216.72,265.42 L220.75,263.37 L224.76,261.29 L228.76,259.19 L232.74,257.05 L236.70,254.89 L240.65,252.71 L244.58,250.49 L248.49,248.25 L252.38,245.98 L256.26,243.68 L260.12,241.35 L263.96,238.99 L267.78,236.59 L271.60,234.19 L275.41,231.80 L279.22,229.37 L283.00,226.92 L286.78,224.44 L290.53,221.94 L294.27,219.41 L298.00,216.85 L301.70,214.26 L305.40,211.65 L309.07,209.01 L308.31,207.96 L304.64,210.59 L300.96,213.20 L297.26,215.78 L293.54,218.33 L289.81,220.86 L286.06,223.36 L282.29,225.83 L278.51,228.28 L274.72,230.70 L270.91,233.09 L267.06,235.42 L263.19,237.71 L259.30,239.98 L255.41,242.22 L251.50,244.44 L247.58,246.64 L243.64,248.81 L239.68,250.96 L235.72,253.07 L231.74,255.17 L227.74,257.23 L223.73,259.27 L219.70,261.29 L215.66,263.27 L211.60,265.23 L207.53,267.17 L203.44,269.07 L199.34,270.95 Z" fill="#a3d5ee" fill-opacity="0.95" />
<path d="M195.82,252.50 L199.38,253.45 L202.85,254.50 L206.24,255.64 L209.55,256.87 L212.77,258.19 L215.90,259.61 L218.96,261.12 L221.92,262.71 L224.81,264.40 L227.61,266.19 L230.33,268.06 L232.96,270.03 L235.51,272.08 L237.98,274.23 L240.36,276.47 L242.66,278.81 L244.88,281.23 L247.01,283.75 L249.06,286.36 L251.03,289.06 L252.91,291.85 L254.70,294.74 L256.42,297.72 L258.06,300.78 L259.62,303.94 L261.10,307.19 L262.50,310.53 L263.81,313.96 L265.03,313.52 L263.70,310.05 L262.29,306.67 L260.80,303.38 L259.22,300.19 L257.55,297.08 L255.80,294.08 L253.95,291.17 L252.02,288.35 L250.02,285.63 L247.92,283.00 L245.75,280.46 L243.49,278.02 L241.15,275.66 L238.72,273.41 L236.22,271.24 L233.62,269.17 L230.95,267.19 L228.19,265.31 L225.35,263.51 L222.43,261.82 L219.42,260.21 L216.33,258.70 L213.16,257.28 L209.90,255.96 L206.56,254.73 L203.14,253.59 L199.64,252.55 L196.05,251.59 Z" fill="#1f9e3a" fill-opacity="0.95" />
<path d="M211.39,208.37 L215.04,210.28 L218.70,212.11 L222.38,213.85 L226.08,215.49 L229.79,217.04 L233.52,218.50 L237.27,219.87 L241.03,221.15 L244.81,222.33 L248.60,223.43 L252.41,224.43 L256.24,225.34 L260.08,226.15 L263.94,226.88 L267.82,227.51 L271.71,228.05 L275.62,228.50 L279.54,228.86 L283.48,229.13 L287.44,229.30 L291.41,229.39 L295.40,229.38 L299.40,229.28 L303.42,229.08 L307.46,228.80 L311.51,228.42 L315.58,227.95 L319.66,227.39 L319.47,226.10 L315.41,226.66 L311.37,227.12 L307.35,227.50 L303.34,227.78 L299.35,227.98 L295.38,228.08 L291.42,228.09 L287.48,228.01 L283.55,227.84 L279.64,227.58 L275.75,227.22 L271.87,226.78 L268.01,226.24 L264.16,225.61 L260.33,224.90 L256.52,224.09 L252.72,223.19 L248.94,222.19 L245.17,221.11 L241.42,219.93 L237.69,218.67 L233.97,217.31 L230.27,215.86 L226.58,214.32 L222.91,212.69 L219.25,210.97 L215.62,209.15 L211.99,207.25 Z" fill="#f6c6de" fill-opacity="0.95" />
<path d="M252.15,186.60 L253.24,190.90 L254.38,195.18 L255.57,199.43 L256.81,203.66 L258.10,207.87 L259.45,212.05 L260.84,216.22 L262.29,220.35 L263.79,224.47 L265.35,228.56 L266.95,232.62 L268.61,236.66 L270.32,240.68 L272.08,244.67 L273.90,248.64 L275.78,252.57 L277.73,256.48 L279.69,260.38 L281.63,264.29 L283.63,268.17 L285.68,272.03 L287.78,275.88 L289.93,279.70 L292.14,283.49 L294.39,287.27 L296.69,291.02 L299.04,294.76 L301.45,298.47 L302.54,297.75 L300.14,294.06 L297.79,290.34 L295.50,286.60 L293.26,282.83 L291.06,279.05 L288.92,275.25 L286.83,271.42 L284.79,267.57 L282.79,263.70 L280.85,259.81 L279.02,255.86 L277.29,251.88 L275.58,247.89 L273.92,243.88 L272.30,239.86 L270.73,235.81 L269.21,231.75 L267.74,227.67 L266.32,223.57 L264.94,219.45 L263.62,215.31 L262.34,211.14 L261.12,206.96 L259.94,202.76 L258.82,198.54 L257.74,194.30 L256.72,190.04 L255.74,185.76 Z" fill="#a5641a" fill-opacity="0.95" />
<path d="M208.70,211.79 L212.54,214.12 L216.40,216.41 L220.28,218.66 L224.17,220.87 L228.09,223.04 L232.02,225.16 L235.97,227.25 L239.93,229.29 L243.91,231.29 L247.91,233.25 L251.93,235.17 L255.97,237.05 L260.02,238.88 L264.10,240.67 L268.19,242.41 L272.30,244.11 L276.44,245.74 L280.57,247.38 L284.70,249.04 L288.84,250.66 L293.00,252.25 L297.18,253.79 L301.38,255.29 L305.59,256.76 L309.83,258.19 L314.08,259.57 L318.35,260.92 L322.63,262.23 L323.01,260.98 L318.73,259.68 L314.48,258.33 L310.24,256.95 L306.02,255.53 L301.81,254.07 L297.63,252.57 L293.46,251.03 L289.31,249.45 L285.18,247.83 L281.06,246.18 L276.99,244.42 L272.96,242.57 L268.94,240.71 L264.94,238.82 L260.95,236.90 L256.98,234.94 L253.02,232.95 L249.09,230.92 L245.17,228.85 L241.27,226.75 L237.39,224.61 L233.53,222.43 L229.68,220.21 L225.85,217.96 L222.05,215.67 L218.25,213.34 L214.48,210.98 L210.73,208.57 Z" fill="#f6c6de" fill-opacity="0.95" />
<path d="M202.27,277.69 L206.30,275.56 L210.32,273.42 L214.33,271.26 L218.33,269.08 L222.33,266.89 L226.31,264.69 L230.29,262.47 L234.26,260.24 L238.22,257.99 L242.17,255.73 L246.11,253.45 L250.05,251.16 L253.97,248.86 L257.89,246.54 L261.80,244.20 L265.70,241.85 L269.59,239.49 L273.47,237.11 L277.34,234.72 L281.21,232.31 L285.07,229.90 L288.92,227.47 L292.76,225.02 L296.59,222.54 L300.40,220.05 L304.21,217.54 L308.00,215.02 L311.79,212.48 L311.07,211.40 L307.28,213.94 L303.49,216.46 L299.69,218.96 L295.88,221.45 L292.06,223.92 L288.24,226.40 L284.41,228.86 L280.58,231.31 L276.73,233.74 L272.87,236.15 L269.01,238.55 L265.13,240.93 L261.25,243.30 L257.36,245.65 L253.45,247.99 L249.54,250.31 L245.62,252.61 L241.69,254.91 L237.76,257.18 L233.81,259.45 L229.85,261.69 L225.89,263.93 L221.91,266.14 L217.93,268.35 L213.94,270.54 L209.94,272.71 L205.93,274.87 L201.91,277.01 Z" fill="#3fb8b0" fill-opacity="0.95" />
<path d="M199.41,270.51 L202.88,268.34 L206.28,266.11 L209.61,263.82 L212.86,261.46 L216.04,259.05 L219.15,256.58 L222.19,254.04 L225.15,251.44 L228.04,248.79 L230.85,246.07 L233.59,243.29 L236.26,240.45 L238.86,237.55 L241.38,234.59 L243.83,231.56 L246.21,228.48 L248.51,225.33 L250.74,222.13 L252.90,218.86 L254.99,215.53 L257.00,212.14 L258.95,208.70 L260.81,205.19 L262.60,201.61 L264.30,197.97 L265.94,194.27 L267.50,190.51 L268.99,186.69 L267.77,186.23 L266.29,190.03 L264.74,193.76 L263.12,197.43 L261.43,201.04 L259.66,204.59 L257.83,208.09 L255.93,211.53 L253.95,214.90 L251.90,218.22 L249.78,221.48 L247.58,224.67 L245.31,227.80 L242.96,230.88 L240.54,233.89 L238.05,236.85 L235.49,239.74 L232.85,242.57 L230.13,245.34 L227.35,248.06 L224.49,250.71 L221.55,253.30 L218.54,255.83 L215.46,258.31 L212.31,260.72 L209.08,263.07 L205.78,265.36 L202.40,267.59 L198.95,269.76 Z" fill="#a3d5ee" fill-opacity="0.95" />
<path d="M196.83,238.47 L200.11,240.18 L203.30,241.96 L206.38,243.82 L209.36,245.74 L212.25,247.74 L215.03,249.81 L217.71,251.95 L220.29,254.16 L222.77,256.44 L225.16,258.80 L227.44,261.23 L229.62,263.73 L231.70,266.30 L233.68,268.94 L235.56,271.65 L237.34,274.44 L239.01,277.30 L240.59,280.23 L242.07,283.23 L243.45,286.30 L244.72,289.45 L245.90,292.66 L246.97,295.95 L247.97,299.31 L248.87,302.73 L249.66,306.24 L250.36,309.81 L250.96,313.46 L252.24,313.26 L251.64,309.58 L250.93,305.97 L250.13,302.43 L249.22,298.96 L248.21,295.56 L247.09,292.24 L245.86,289.00 L244.53,285.83 L243.11,282.73 L241.58,279.71 L239.96,276.76 L238.24,273.88 L236.42,271.08 L234.50,268.34 L232.48,265.69 L230.36,263.10 L228.14,260.59 L225.82,258.15 L223.40,255.79 L220.88,253.50 L218.26,251.28 L215.54,249.14 L212.73,247.07 L209.81,245.07 L206.79,243.15 L203.68,241.30 L200.47,239.52 L197.15,237.82 Z" fill="#a4cf2a" fill-opacity="0.95" />
<path d="M225.21,196.25 L228.15,199.34 L231.13,202.38 L234.16,205.34 L237.23,208.25 L240.34,211.09 L243.49,213.86 L246.68,216.57 L249.91,219.22 L253.18,221.80 L256.50,224.32 L259.85,226.77 L263.25,229.15 L266.69,231.48 L270.16,233.73 L273.68,235.93 L277.25,238.06 L280.85,240.12 L284.49,242.12 L288.18,244.05 L291.90,245.92 L295.67,247.73 L299.48,249.47 L303.33,251.15 L307.22,252.76 L311.15,254.30 L315.12,255.78 L319.14,257.19 L323.20,258.54 L323.60,257.30 L319.56,255.96 L315.57,254.56 L311.61,253.09 L307.70,251.55 L303.83,249.95 L300.00,248.29 L296.21,246.57 L292.46,244.78 L288.75,242.93 L285.09,241.01 L281.46,239.03 L277.87,236.98 L274.33,234.87 L270.83,232.69 L267.36,230.45 L263.94,228.15 L260.56,225.78 L257.22,223.34 L253.92,220.84 L250.66,218.28 L247.44,215.65 L244.27,212.96 L241.13,210.20 L238.03,207.38 L234.98,204.49 L231.96,201.54 L228.99,198.53 L226.06,195.45 Z" fill="#e03038" fill-opacity="0.95" />
<path d="M203.31,280.03 L206.37,279.49 L209.34,279.07 L212.23,278.80 L215.03,278.65 L217.75,278.63 L220.39,278.74 L222.94,278.98 L225.41,279.36 L227.80,279.86 L230.10,280.49 L232.32,281.25 L234.45,282.15 L236.50,283.17 L238.47,284.31 L240.36,285.59 L242.17,287.00 L243.89,288.54 L245.53,290.20 L247.09,292.00 L248.57,293.93 L249.97,295.99 L251.28,298.18 L252.52,300.50 L253.69,302.94 L254.79,305.52 L255.80,308.23 L256.73,311.07 L257.58,314.05 L258.84,313.71 L257.97,310.69 L257.03,307.80 L255.99,305.04 L254.88,302.41 L253.68,299.91 L252.38,297.55 L251.00,295.32 L249.53,293.23 L247.99,291.26 L246.36,289.43 L244.65,287.73 L242.85,286.17 L240.98,284.74 L239.02,283.44 L236.98,282.27 L234.86,281.24 L232.66,280.35 L230.38,279.58 L228.01,278.96 L225.57,278.46 L223.05,278.10 L220.45,277.87 L217.77,277.77 L215.00,277.81 L212.16,277.98 L209.24,278.28 L206.24,278.71 L203.16,279.27 Z" fill="#3fb8b0" fill-opacity="0.95" />
<path d="M197.38,236.12 L201.82,237.20 L206.26,238.29 L210.70,239.37 L215.14,240.46 L219.58,241.55 L224.01,242.65 L228.45,243.75 L232.89,244.85 L237.32,245.95 L241.76,247.05 L246.19,248.16 L250.62,249.27 L255.05,250.39 L259.49,251.50 L263.92,252.62 L268.35,253.73 L272.78,254.84 L277.21,255.97 L281.63,257.13 L286.05,258.29 L290.47,259.46 L294.89,260.62 L299.31,261.79 L303.73,262.97 L308.14,264.15 L312.56,265.33 L316.97,266.51 L321.38,267.70 L321.72,266.44 L317.31,265.26 L312.89,264.07 L308.48,262.89 L304.06,261.71 L299.64,260.54 L295.22,259.37 L290.80,258.20 L286.38,257.03 L281.96,255.87 L277.54,254.71 L273.12,253.54 L268.71,252.34 L264.29,251.16 L259.88,249.99 L255.46,248.82 L251.04,247.66 L246.62,246.50 L242.19,245.34 L237.77,244.19 L233.34,243.04 L228.92,241.90 L224.49,240.76 L220.06,239.62 L215.63,238.49 L211.20,237.36 L206.77,236.23 L202.34,235.11 L197.91,233.99 Z" fill="#a4cf2a" fill-opacity="0.95" />
<path d="M256.42,186.13 L257.57,190.05 L258.81,193.91 L260.12,197.71 L261.51,201.46 L262.98,205.16 L264.53,208.80 L266.16,212.38 L267.87,215.91 L269.66,219.38 L271.53,222.80 L273.47,226.16 L275.50,229.47 L277.61,232.72 L279.79,235.91 L282.06,239.05 L284.40,242.13 L286.82,245.16 L289.33,248.13 L291.91,251.04 L294.57,253.90 L297.31,256.71 L300.13,259.46 L303.03,262.15 L306.01,264.79 L309.07,267.36 L312.20,269.89 L315.42,272.35 L318.71,274.77 L319.47,273.71 L316.20,271.31 L313.01,268.87 L309.89,266.36 L306.86,263.80 L303.90,261.19 L301.02,258.52 L298.22,255.80 L295.50,253.02 L292.86,250.18 L290.29,247.29 L287.81,244.35 L285.40,241.35 L283.08,238.29 L280.83,235.18 L278.66,232.02 L276.57,228.79 L274.55,225.52 L272.62,222.18 L270.76,218.80 L268.99,215.35 L267.29,211.85 L265.67,208.30 L264.13,204.69 L262.67,201.02 L261.28,197.30 L259.98,193.52 L258.75,189.69 L257.60,185.80 Z" fill="#a5641a" fill-opacity="0.95" />
<path d="M216.53,202.78 L219.25,206.38 L221.93,209.99 L224.59,213.63 L227.22,217.28 L229.82,220.95 L232.39,224.63 L234.93,228.34 L237.44,232.06 L239.92,235.80 L242.38,239.56 L244.80,243.33 L247.19,247.12 L249.56,250.93 L251.90,254.76 L254.20,258.61 L256.48,262.47 L258.72,266.35 L260.94,270.25 L263.13,274.17 L265.29,278.10 L267.42,282.05 L269.51,286.03 L271.58,290.01 L273.63,294.01 L275.65,298.03 L277.64,302.07 L279.61,306.12 L281.54,310.19 L282.72,309.64 L280.78,305.56 L278.81,301.50 L276.82,297.45 L274.79,293.43 L272.73,289.42 L270.64,285.43 L268.51,281.47 L266.36,277.52 L264.18,273.58 L261.97,269.67 L259.73,265.77 L257.47,261.89 L255.17,258.03 L252.85,254.18 L250.49,250.36 L248.11,246.55 L245.70,242.76 L243.26,238.98 L240.79,235.23 L238.29,231.49 L235.77,227.77 L233.21,224.06 L230.63,220.38 L228.01,216.71 L225.37,213.06 L222.70,209.43 L220.00,205.81 L217.27,202.22 Z" fill="#a04fa8" fill-opacity="0.95" />
<path d="M202.29,222.23 L205.89,222.79 L209.45,223.24 L212.96,223.56 L216.43,223.76 L219.86,223.84 L223.25,223.80 L226.60,223.64 L229.90,223.36 L233.16,222.95 L236.38,222.42 L239.55,221.78 L242.69,221.01 L245.78,220.12 L248.83,219.10 L251.83,217.97 L254.80,216.71 L257.72,215.34 L260.60,213.84 L263.43,212.22 L266.23,210.48 L268.98,208.62 L271.69,206.64 L274.36,204.53 L276.97,202.29 L279.53,199.92 L282.05,197.43 L284.53,194.83 L286.96,192.10 L285.97,191.25 L283.57,193.95 L281.12,196.52 L278.63,198.98 L276.10,201.32 L273.53,203.53 L270.92,205.64 L268.28,207.64 L265.59,209.51 L262.85,211.26 L260.07,212.89 L257.25,214.39 L254.38,215.78 L251.46,217.05 L248.50,218.20 L245.50,219.22 L242.45,220.13 L239.36,220.92 L236.22,221.58 L233.04,222.13 L229.81,222.55 L226.54,222.86 L223.22,223.04 L219.86,223.10 L216.46,223.05 L213.01,222.87 L209.52,222.57 L205.98,222.15 L202.39,221.61 Z" fill="#f8b820" fill-opacity="0.95" />
<path d="M202.02,222.80 L205.72,223.38 L209.38,223.84 L213.02,224.19 L216.61,224.41 L220.17,224.53 L223.70,224.52 L227.19,224.40 L230.64,224.17 L234.06,223.81 L237.44,223.34 L240.79,222.76 L244.10,222.05 L247.38,221.23 L250.62,220.30 L253.82,219.24 L256.99,218.07 L260.13,216.78 L263.23,215.38 L266.29,213.86 L269.32,212.22 L272.31,210.47 L275.27,208.61 L278.19,206.62 L281.07,204.49 L283.90,202.26 L286.70,199.90 L289.46,197.43 L292.19,194.84 L291.28,193.91 L288.58,196.47 L285.85,198.92 L283.08,201.25 L280.28,203.46 L277.44,205.56 L274.58,207.56 L271.68,209.45 L268.74,211.21 L265.77,212.87 L262.76,214.40 L259.71,215.82 L256.62,217.12 L253.49,218.31 L250.33,219.38 L247.13,220.33 L243.89,221.17 L240.62,221.89 L237.31,222.50 L233.96,222.99 L230.57,223.36 L227.14,223.62 L223.68,223.76 L220.18,223.79 L216.64,223.70 L213.07,223.49 L209.46,223.17 L205.81,222.73 L202.12,222.18 Z" fill="#f8b820" fill-opacity="0.95" />
<path d="M195.76,251.17 L200.21,251.62 L204.65,252.11 L209.08,252.63 L213.51,253.20 L217.92,253.81 L222.33,254.45 L226.73,255.14 L231.12,255.86 L235.50,256.62 L239.88,257.42 L244.24,258.26 L248.60,259.14 L252.95,260.05 L257.29,261.01 L261.62,262.00 L265.95,263.02 L270.27,264.07 L274.57,265.19 L278.86,266.38 L283.13,267.62 L287.40,268.90 L291.66,270.21 L295.91,271.57 L300.15,272.96 L304.38,274.40 L308.60,275.87 L312.81,277.39 L317.01,278.94 L317.47,277.72 L313.25,276.17 L309.03,274.65 L304.80,273.17 L300.56,271.73 L296.31,270.33 L292.05,268.97 L287.78,267.65 L283.50,266.37 L279.21,265.13 L274.92,263.93 L270.62,262.73 L266.32,261.55 L262.01,260.41 L257.68,259.32 L253.35,258.27 L249.00,257.27 L244.64,256.30 L240.28,255.38 L235.90,254.50 L231.51,253.66 L227.11,252.86 L222.71,252.10 L218.29,251.38 L213.86,250.70 L209.42,250.07 L204.97,249.47 L200.51,248.91 L196.04,248.39 Z" fill="#1f9e3a" fill-opacity="0.95" />
<path d="M244.60,312.23 L246.53,308.82 L248.53,305.50 L250.60,302.26 L252.73,299.10 L254.93,296.03 L257.20,293.05 L259.53,290.14 L261.93,287.32 L264.40,284.59 L266.93,281.94 L269.54,279.37 L272.20,276.88 L274.94,274.48 L277.74,272.17 L280.61,269.93 L283.55,267.78 L286.55,265.71 L289.62,263.73 L292.76,261.83 L295.97,260.01 L299.24,258.28 L302.58,256.63 L305.99,255.06 L309.47,253.58 L313.01,252.19 L316.62,250.87 L320.30,249.65 L324.05,248.50 L323.69,247.25 L319.91,248.41 L316.20,249.65 L312.55,250.97 L308.97,252.38 L305.46,253.87 L302.02,255.45 L298.64,257.11 L295.33,258.85 L292.09,260.68 L288.92,262.60 L285.81,264.60 L282.77,266.68 L279.80,268.85 L276.90,271.11 L274.06,273.45 L271.29,275.87 L268.59,278.38 L265.96,280.97 L263.39,283.65 L260.90,286.41 L258.47,289.26 L256.11,292.19 L253.81,295.21 L251.59,298.31 L249.43,301.49 L247.34,304.76 L245.32,308.11 L243.37,311.55 Z" fill="#4bb9c6" fill-opacity="0.95" />
<path d="M221.87,198.49 L224.68,202.08 L227.50,205.67 L230.34,209.24 L233.19,212.80 L236.05,216.35 L238.93,219.89 L241.82,223.41 L244.72,226.93 L247.64,230.43 L250.57,233.92 L253.52,237.40 L256.48,240.86 L259.45,244.31 L262.44,247.75 L265.44,251.18 L268.47,254.58 L271.52,257.96 L274.55,261.36 L277.55,264.79 L280.56,268.21 L283.59,271.62 L286.62,275.01 L289.67,278.40 L292.74,281.77 L295.81,285.14 L298.90,288.49 L302.00,291.83 L305.11,295.16 L306.06,294.27 L302.95,290.95 L299.85,287.61 L296.77,284.26 L293.70,280.90 L290.64,277.53 L287.59,274.14 L284.56,270.75 L281.54,267.35 L278.53,263.93 L275.53,260.51 L272.60,257.04 L269.70,253.52 L266.81,250.01 L263.92,246.50 L261.04,242.97 L258.18,239.44 L255.32,235.91 L252.47,232.36 L249.64,228.80 L246.81,225.24 L244.00,221.66 L241.20,218.08 L238.41,214.48 L235.64,210.88 L232.87,207.26 L230.12,203.64 L227.38,200.01 L224.66,196.36 Z" fill="#e03038" fill-opacity="0.95" />
<path d="M238.36,310.24 L240.26,306.13 L242.17,302.04 L244.12,297.96 L246.08,293.90 L248.08,289.85 L250.10,285.82 L252.14,281.80 L254.21,277.80 L256.31,273.81 L258.43,269.83 L260.58,265.87 L262.75,261.93 L264.95,258.00 L267.17,254.08 L269.42,250.18 L271.70,246.29 L274.00,242.41 L276.32,238.55 L278.67,234.71 L281.05,230.88 L283.45,227.06 L285.87,223.26 L288.32,219.47 L290.81,215.70 L293.32,211.95 L295.86,208.21 L298.42,204.49 L301.01,200.78 L299.95,200.04 L297.35,203.75 L294.78,207.48 L292.24,211.22 L289.72,214.98 L287.23,218.76 L284.76,222.54 L282.30,226.33 L279.87,230.14 L277.48,233.97 L275.10,237.81 L272.76,241.67 L270.44,245.54 L268.14,249.43 L265.87,253.33 L263.63,257.25 L261.41,261.18 L259.22,265.13 L257.06,269.09 L254.92,273.07 L252.80,277.06 L250.72,281.07 L248.65,285.09 L246.62,289.13 L244.61,293.18 L242.62,297.24 L240.66,301.33 L238.73,305.42 L236.82,309.53 Z" fill="#cde0e0" fill-opacity="0.95" />
<path d="M232.88,308.17 L235.33,304.53 L237.83,300.92 L240.36,297.35 L242.93,293.81 L245.54,290.31 L248.19,286.85 L250.88,283.43 L253.61,280.04 L256.37,276.69 L259.18,273.38 L262.03,270.10 L264.91,266.86 L267.84,263.66 L270.80,260.49 L273.80,257.35 L276.83,254.25 L279.90,251.17 L283.03,248.16 L286.23,245.22 L289.47,242.31 L292.75,239.45 L296.08,236.63 L299.44,233.84 L302.84,231.09 L306.28,228.38 L309.76,225.71 L313.28,223.07 L316.84,220.48 L316.08,219.42 L312.51,222.03 L308.98,224.67 L305.48,227.35 L302.03,230.07 L298.61,232.83 L295.24,235.63 L291.91,238.47 L288.61,241.34 L285.36,244.25 L282.14,247.20 L278.93,250.16 L275.73,253.13 L272.59,256.15 L269.48,259.21 L266.42,262.32 L263.40,265.47 L260.42,268.66 L257.49,271.89 L254.59,275.17 L251.73,278.48 L248.91,281.83 L246.13,285.22 L243.39,288.66 L240.69,292.13 L238.04,295.64 L235.42,299.20 L232.84,302.79 L230.30,306.42 Z" fill="#7fa8a8" fill-opacity="0.95" />
<path d="M227.68,305.34 L230.24,301.59 L232.81,297.84 L235.39,294.11 L237.99,290.39 L240.61,286.68 L243.24,282.98 L245.89,279.30 L248.55,275.62 L251.22,271.96 L253.91,268.30 L256.62,264.66 L259.34,261.03 L262.07,257.41 L264.82,253.79 L267.58,250.19 L270.34,246.59 L273.11,242.99 L275.93,239.43 L278.82,235.93 L281.72,232.44 L284.64,228.96 L287.58,225.50 L290.53,222.05 L293.50,218.61 L296.49,215.18 L299.49,211.77 L302.51,208.37 L305.54,204.98 L304.57,204.11 L301.54,207.50 L298.51,210.91 L295.51,214.33 L292.52,217.76 L289.55,221.20 L286.59,224.66 L283.65,228.13 L280.72,231.61 L277.82,235.10 L274.92,238.61 L271.99,242.08 L269.04,245.54 L266.12,249.02 L263.22,252.53 L260.34,256.05 L257.48,259.59 L254.64,263.14 L251.82,266.71 L249.01,270.29 L246.23,273.88 L243.45,277.49 L240.70,281.12 L237.96,284.76 L235.24,288.41 L232.54,292.07 L229.85,295.75 L227.18,299.45 L224.52,303.15 Z" fill="#2f5f5c" fill-opacity="0.95" />
<path d="M206.81,285.84 L210.79,283.81 L214.78,281.81 L218.79,279.85 L222.82,277.93 L226.85,276.05 L230.90,274.21 L234.97,272.41 L239.05,270.64 L243.15,268.92 L247.25,267.23 L251.38,265.59 L255.51,263.98 L259.66,262.41 L263.83,260.88 L268.01,259.39 L272.20,257.94 L276.41,256.52 L280.63,255.15 L284.87,253.81 L289.12,252.51 L293.38,251.24 L297.66,250.01 L301.95,248.83 L306.27,247.70 L310.59,246.62 L314.94,245.58 L319.29,244.57 L323.66,243.61 L323.39,242.34 L319.01,243.31 L314.64,244.31 L310.28,245.36 L305.94,246.44 L301.62,247.57 L297.30,248.71 L293.00,249.88 L288.70,251.10 L284.43,252.37 L280.17,253.67 L275.92,255.01 L271.69,256.40 L267.47,257.82 L263.26,259.29 L259.07,260.79 L254.89,262.34 L250.73,263.92 L246.58,265.55 L242.44,267.22 L238.32,268.92 L234.21,270.67 L230.12,272.45 L226.04,274.28 L221.98,276.14 L217.93,278.04 L213.89,279.99 L209.87,281.97 L205.86,284.00 Z" fill="#b3dfd9" fill-opacity="0.95" />
<path d="M204.67,218.29 L208.73,219.78 L212.80,221.19 L216.88,222.52 L220.97,223.78 L225.06,224.96 L229.16,226.07 L233.28,227.10 L237.39,228.06 L241.52,228.94 L245.66,229.74 L249.80,230.47 L253.95,231.12 L258.10,231.69 L262.27,232.18 L266.44,232.59 L270.62,232.92 L274.80,233.14 L278.99,233.35 L283.18,233.58 L287.38,233.73 L291.59,233.81 L295.81,233.81 L300.03,233.75 L304.27,233.61 L308.52,233.39 L312.78,233.11 L317.04,232.75 L321.32,232.32 L321.18,231.02 L316.92,231.45 L312.68,231.81 L308.44,232.10 L304.22,232.31 L300.00,232.45 L295.80,232.51 L291.60,232.51 L287.41,232.43 L283.24,232.28 L279.07,232.05 L274.92,231.67 L270.79,231.15 L266.67,230.59 L262.56,229.97 L258.47,229.29 L254.38,228.54 L250.31,227.72 L246.26,226.83 L242.21,225.87 L238.17,224.85 L234.15,223.75 L230.14,222.59 L226.14,221.35 L222.15,220.05 L218.17,218.67 L214.21,217.22 L210.25,215.71 L206.31,214.12 Z" fill="#f08a2c" fill-opacity="0.95" />
<path d="M221.67,301.15 L224.14,297.35 L226.59,293.54 L229.02,289.71 L231.42,285.87 L233.79,282.02 L236.14,278.15 L238.46,274.27 L240.76,270.38 L243.03,266.47 L245.27,262.55 L247.49,258.61 L249.68,254.66 L251.85,250.70 L253.99,246.72 L256.10,242.73 L258.19,238.73 L260.25,234.71 L262.29,230.67 L264.29,226.63 L266.27,222.57 L268.23,218.49 L270.15,214.40 L272.05,210.30 L273.95,206.19 L275.82,202.07 L277.66,197.93 L279.48,193.78 L281.27,189.62 L280.07,189.11 L278.28,193.26 L276.47,197.41 L274.63,201.53 L272.77,205.65 L270.88,209.75 L268.94,213.83 L266.98,217.89 L264.99,221.94 L262.99,225.98 L260.95,230.00 L258.90,234.01 L256.81,238.01 L254.71,241.99 L252.58,245.96 L250.42,249.92 L248.24,253.86 L246.03,257.79 L243.80,261.71 L241.54,265.61 L239.26,269.50 L236.95,273.37 L234.62,277.23 L232.26,281.08 L229.87,284.91 L227.46,288.73 L225.03,292.53 L222.57,296.32 L220.08,300.10 Z" fill="#c2b1db" fill-opacity="0.95" />
<path d="M196.53,259.22 L200.86,259.36 L205.17,259.57 L209.47,259.85 L213.75,260.19 L218.01,260.60 L222.26,261.07 L226.49,261.60 L230.70,262.21 L234.90,262.87 L239.08,263.61 L243.25,264.40 L247.40,265.27 L251.53,266.19 L255.64,267.19 L259.74,268.24 L263.82,269.37 L267.89,270.56 L271.94,271.81 L275.97,273.13 L279.99,274.52 L283.98,275.98 L287.96,277.50 L291.93,279.08 L295.89,280.71 L299.83,282.40 L303.75,284.16 L307.66,285.99 L311.55,287.87 L312.13,286.71 L308.22,284.81 L304.29,282.98 L300.35,281.21 L296.39,279.51 L292.41,277.88 L288.42,276.32 L284.40,274.84 L280.37,273.42 L276.33,272.07 L272.27,270.77 L268.19,269.54 L264.10,268.38 L260.00,267.28 L255.87,266.24 L251.74,265.27 L247.59,264.37 L243.42,263.53 L239.24,262.75 L235.04,262.04 L230.82,261.40 L226.59,260.82 L222.35,260.30 L218.08,259.85 L213.81,259.46 L209.51,259.14 L205.21,258.89 L200.88,258.70 L196.54,258.57 Z" fill="#2c3f9e" fill-opacity="0.95" />
<path d="M195.99,244.62 L200.48,245.29 L204.98,245.98 L209.47,246.69 L213.95,247.41 L218.44,248.15 L222.92,248.91 L227.40,249.68 L231.87,250.47 L236.34,251.27 L240.81,252.09 L245.28,252.93 L249.74,253.78 L254.20,254.64 L258.66,255.52 L263.12,256.41 L267.58,257.30 L272.04,258.19 L276.48,259.15 L280.90,260.20 L285.32,261.28 L289.74,262.37 L294.15,263.48 L298.55,264.60 L302.96,265.75 L307.36,266.91 L311.75,268.09 L316.14,269.29 L320.53,270.50 L320.88,269.25 L316.49,268.03 L312.09,266.83 L307.69,265.65 L303.29,264.49 L298.88,263.34 L294.47,262.22 L290.05,261.11 L285.63,260.01 L281.21,258.94 L276.78,257.88 L272.37,256.76 L267.97,255.61 L263.55,254.49 L259.13,253.41 L254.70,252.35 L250.27,251.31 L245.83,250.29 L241.38,249.30 L236.93,248.32 L232.48,247.37 L228.02,246.43 L223.55,245.51 L219.08,244.62 L214.61,243.74 L210.13,242.88 L205.65,242.04 L201.16,241.21 L196.67,240.41 Z" fill="#3fae2e" fill-opacity="0.95" />
<path d="M215.62,296.69 L218.96,294.74 L222.31,292.89 L225.67,291.14 L229.05,289.50 L232.45,287.97 L235.86,286.55 L239.29,285.23 L242.73,284.02 L246.19,282.91 L249.66,281.91 L253.15,281.01 L256.66,280.22 L260.18,279.54 L263.72,278.96 L267.28,278.48 L270.86,278.10 L274.45,277.81 L278.07,277.67 L281.70,277.69 L285.34,277.82 L289.00,278.05 L292.68,278.39 L296.37,278.85 L300.07,279.41 L303.79,280.07 L307.52,280.85 L311.27,281.74 L315.03,282.73 L315.38,281.48 L311.59,280.48 L307.80,279.58 L304.04,278.80 L300.28,278.12 L296.54,277.56 L292.82,277.10 L289.10,276.76 L285.41,276.52 L281.72,276.39 L278.05,276.37 L274.40,276.41 L270.75,276.52 L267.11,276.76 L263.48,277.12 L259.87,277.59 L256.26,278.17 L252.67,278.87 L249.09,279.68 L245.52,280.61 L241.96,281.64 L238.42,282.79 L234.89,284.05 L231.37,285.42 L227.87,286.90 L224.38,288.49 L220.91,290.20 L217.44,292.01 L213.99,293.94 Z" fill="#6848a8" fill-opacity="0.95" />
<path d="M197.11,237.13 L201.00,238.82 L204.84,240.57 L208.63,242.37 L212.38,244.25 L216.07,246.18 L219.72,248.17 L223.31,250.23 L226.86,252.35 L230.36,254.53 L233.81,256.77 L237.22,259.08 L240.57,261.44 L243.88,263.87 L247.13,266.36 L250.34,268.92 L253.50,271.53 L256.61,274.21 L259.67,276.95 L262.68,279.75 L265.65,282.61 L268.56,285.54 L271.42,288.53 L274.24,291.58 L277.02,294.68 L279.75,297.85 L282.44,301.07 L285.07,304.36 L287.66,307.71 L288.70,306.92 L286.10,303.55 L283.44,300.25 L280.74,297.01 L277.99,293.82 L275.20,290.71 L272.34,287.66 L269.43,284.69 L266.47,281.77 L263.47,278.91 L260.42,276.12 L257.33,273.39 L254.18,270.72 L250.99,268.11 L247.75,265.56 L244.47,263.08 L241.13,260.66 L237.75,258.30 L234.32,256.00 L230.85,253.77 L227.32,251.59 L223.75,249.48 L220.13,247.44 L216.46,245.45 L212.74,243.53 L208.98,241.67 L205.17,239.87 L201.31,238.13 L197.40,236.46 Z" fill="#a4cf2a" fill-opacity="0.95" />
<path d="M211.62,292.47 L215.33,290.18 L219.07,287.95 L222.83,285.77 L226.61,283.64 L230.40,281.56 L234.23,279.54 L238.07,277.57 L241.93,275.65 L245.82,273.79 L249.72,271.97 L253.65,270.21 L257.60,268.50 L261.57,266.84 L265.56,265.22 L269.57,263.66 L273.60,262.13 L277.64,260.64 L281.73,259.25 L285.86,258.01 L290.02,256.82 L294.19,255.68 L298.39,254.60 L302.61,253.58 L306.84,252.61 L311.10,251.70 L315.38,250.84 L319.68,250.03 L323.99,249.28 L323.78,248.00 L319.45,248.75 L315.13,249.56 L310.84,250.42 L306.56,251.34 L302.31,252.31 L298.08,253.34 L293.86,254.43 L289.67,255.56 L285.50,256.76 L281.35,258.01 L277.19,259.23 L273.03,260.45 L268.89,261.75 L264.78,263.12 L260.69,264.55 L256.62,266.05 L252.56,267.60 L248.53,269.22 L244.52,270.89 L240.52,272.63 L236.55,274.42 L232.59,276.27 L228.66,278.18 L224.74,280.14 L220.85,282.17 L216.97,284.25 L213.11,286.39 L209.28,288.58 Z" fill="#4a2d8c" fill-opacity="0.95" />
<path d="M214.14,204.89 L216.82,208.41 L219.46,211.96 L222.05,215.53 L224.60,219.13 L227.10,222.75 L229.56,226.39 L231.98,230.06 L234.36,233.75 L236.69,237.46 L238.99,241.20 L241.23,244.96 L243.44,248.75 L245.61,252.56 L247.73,256.39 L249.81,260.24 L251.86,264.12 L253.87,268.01 L255.82,271.95 L257.68,275.92 L259.50,279.92 L261.27,283.94 L263.01,287.98 L264.69,292.05 L266.34,296.14 L267.94,300.25 L269.49,304.39 L271.00,308.55 L272.47,312.74 L273.70,312.32 L272.23,308.12 L270.71,303.94 L269.15,299.79 L267.55,295.66 L265.90,291.56 L264.20,287.48 L262.47,283.42 L260.69,279.38 L258.86,275.37 L256.99,271.39 L255.11,267.41 L253.21,263.43 L251.26,259.49 L249.26,255.57 L247.21,251.68 L245.11,247.81 L242.96,243.96 L240.77,240.14 L238.54,236.34 L236.25,232.57 L233.93,228.82 L231.55,225.09 L229.13,221.38 L226.67,217.70 L224.16,214.04 L221.61,210.41 L219.01,206.80 L216.36,203.21 Z" fill="#a04fa8" fill-opacity="0.95" />
<path d="M236.33,190.37 L237.69,194.70 L239.02,199.04 L240.33,203.38 L241.61,207.72 L242.87,212.08 L244.10,216.43 L245.31,220.80 L246.49,225.17 L247.65,229.54 L248.79,233.92 L249.89,238.31 L250.98,242.70 L252.04,247.10 L253.07,251.50 L254.08,255.91 L255.07,260.33 L256.03,264.75 L256.96,269.17 L257.87,273.61 L258.75,278.05 L259.61,282.49 L260.43,286.94 L261.24,291.40 L262.04,295.85 L262.82,300.32 L263.57,304.79 L264.30,309.26 L265.00,313.74 L266.29,313.54 L265.58,309.05 L264.85,304.57 L264.10,300.10 L263.32,295.63 L262.52,291.16 L261.68,286.71 L260.80,282.26 L259.91,277.81 L258.99,273.38 L258.05,268.94 L257.09,264.52 L256.10,260.10 L255.09,255.68 L254.06,251.27 L253.00,246.87 L251.91,242.47 L250.81,238.08 L249.67,233.69 L248.52,229.31 L247.34,224.94 L246.13,220.57 L244.91,216.21 L243.65,211.85 L242.38,207.50 L241.07,203.15 L239.75,198.81 L238.40,194.48 L237.02,190.15 Z" fill="#80b54d" fill-opacity="0.95" />
<path d="M216.97,297.56 L220.15,295.68 L223.34,293.91 L226.53,292.27 L229.73,290.75 L232.94,289.36 L236.16,288.09 L239.39,286.94 L242.63,285.91 L245.87,285.01 L249.12,284.23 L252.38,283.57 L255.65,283.03 L258.92,282.62 L262.21,282.33 L265.50,282.16 L268.80,282.12 L272.11,282.19 L275.42,282.40 L278.75,282.72 L282.09,283.16 L285.43,283.73 L288.78,284.43 L292.14,285.24 L295.51,286.17 L298.89,287.22 L302.29,288.40 L305.69,289.70 L309.10,291.12 L309.61,289.93 L306.17,288.49 L302.73,287.18 L299.30,285.99 L295.88,284.92 L292.47,283.98 L289.06,283.17 L285.66,282.49 L282.27,281.93 L278.89,281.49 L275.52,281.17 L272.16,280.98 L268.80,280.91 L265.46,280.97 L262.12,281.15 L258.79,281.45 L255.48,281.88 L252.17,282.43 L248.87,283.11 L245.58,283.91 L242.30,284.83 L239.03,285.87 L235.77,287.04 L232.52,288.34 L229.28,289.75 L226.05,291.30 L222.83,292.96 L219.61,294.75 L216.41,296.66 Z" fill="#6848a8" fill-opacity="0.95" />
<path d="M238.28,189.69 L240.08,193.85 L241.89,198.01 L243.73,202.16 L245.59,206.29 L247.48,210.41 L249.38,214.52 L251.32,218.61 L253.27,222.70 L255.25,226.77 L257.25,230.83 L259.28,234.87 L261.32,238.91 L263.39,242.93 L265.49,246.94 L267.61,250.94 L269.75,254.93 L271.91,258.90 L274.10,262.87 L276.30,266.82 L278.53,270.76 L280.79,274.69 L283.06,278.60 L285.36,282.51 L287.70,286.39 L290.06,290.26 L292.44,294.12 L294.85,297.96 L297.29,301.80 L298.38,301.10 L295.95,297.27 L293.55,293.43 L291.17,289.58 L288.81,285.72 L286.47,281.84 L284.15,277.96 L281.84,274.07 L279.56,270.17 L277.30,266.25 L275.07,262.32 L272.86,258.38 L270.68,254.42 L268.52,250.45 L266.38,246.47 L264.27,242.48 L262.18,238.47 L260.12,234.45 L258.07,230.42 L256.06,226.37 L254.06,222.31 L252.09,218.24 L250.14,214.16 L248.22,210.06 L246.32,205.96 L244.44,201.84 L242.59,197.70 L240.75,193.56 L238.95,189.40 Z" fill="#80b54d" fill-opacity="0.95" />
<path d="M201.16,224.79 L205.42,225.99 L209.69,227.14 L213.97,228.24 L218.25,229.28 L222.54,230.26 L226.83,231.19 L231.13,232.07 L235.43,232.89 L239.74,233.66 L244.06,234.37 L248.38,235.03 L252.70,235.63 L257.04,236.18 L261.38,236.67 L265.72,237.11 L270.07,237.49 L274.42,237.81 L278.79,238.09 L283.15,238.33 L287.52,238.51 L291.90,238.64 L296.28,238.72 L300.67,238.74 L305.07,238.71 L309.47,238.63 L313.88,238.49 L318.29,238.30 L322.71,238.05 L322.63,236.75 L318.22,237.00 L313.83,237.19 L309.43,237.33 L305.05,237.41 L300.67,237.44 L296.30,237.42 L291.93,237.34 L287.57,237.21 L283.21,237.03 L278.86,236.79 L274.52,236.48 L270.19,236.10 L265.86,235.68 L261.54,235.21 L257.22,234.68 L252.91,234.10 L248.61,233.47 L244.31,232.78 L240.02,232.04 L235.74,231.25 L231.46,230.40 L227.19,229.50 L222.92,228.55 L218.67,227.54 L214.41,226.48 L210.17,225.37 L205.93,224.20 L201.69,222.98 Z" fill="#f8b820" fill-opacity="0.95" />
<path d="M230.10,193.52 L232.63,196.09 L235.21,198.53 L237.81,200.84 L240.46,203.03 L243.14,205.09 L245.86,207.02 L248.61,208.83 L251.41,210.50 L254.23,212.05 L257.10,213.47 L260.00,214.77 L262.94,215.93 L265.91,216.97 L268.92,217.88 L271.96,218.66 L275.04,219.31 L278.15,219.83 L281.30,220.23 L284.49,220.50 L287.70,220.63 L290.96,220.64 L294.24,220.52 L297.56,220.27 L300.92,219.91 L304.31,219.42 L307.74,218.80 L311.20,218.06 L314.69,217.18 L314.36,215.93 L310.90,216.79 L307.49,217.53 L304.10,218.14 L300.76,218.62 L297.45,218.98 L294.17,219.20 L290.94,219.29 L287.74,219.26 L284.58,219.11 L281.45,218.83 L278.36,218.42 L275.31,217.89 L272.30,217.24 L269.32,216.46 L266.37,215.55 L263.46,214.53 L260.59,213.37 L257.75,212.09 L254.95,210.69 L252.18,209.16 L249.45,207.50 L246.75,205.72 L244.09,203.81 L241.46,201.78 L238.87,199.62 L236.31,197.33 L233.78,194.92 L231.29,192.38 Z" fill="#d81e2c" fill-opacity="0.95" />
<path d="M196.02,247.97 L200.13,247.22 L204.21,246.39 L208.24,245.48 L212.23,244.50 L216.19,243.44 L220.11,242.29 L223.99,241.08 L227.82,239.78 L231.63,238.41 L235.39,236.95 L239.11,235.42 L242.79,233.82 L246.44,232.13 L250.04,230.37 L253.61,228.53 L257.14,226.61 L260.63,224.62 L264.08,222.54 L267.49,220.39 L270.87,218.17 L274.21,215.86 L277.50,213.48 L280.76,211.02 L283.97,208.47 L287.15,205.85 L290.28,203.15 L293.37,200.37 L296.43,197.51 L295.53,196.57 L292.49,199.41 L289.42,202.17 L286.31,204.86 L283.16,207.46 L279.96,210.00 L276.74,212.46 L273.48,214.85 L270.18,217.16 L266.84,219.39 L263.46,221.54 L260.04,223.62 L256.58,225.61 L253.08,227.53 L249.54,229.38 L245.97,231.14 L242.35,232.83 L238.69,234.44 L234.99,235.98 L231.26,237.43 L227.48,238.81 L223.67,240.11 L219.82,241.34 L215.92,242.48 L211.99,243.55 L208.02,244.55 L204.01,245.46 L199.96,246.30 L195.86,247.06 Z" fill="#1f9e3a" fill-opacity="0.95" />
<path d="M220.47,199.42 L222.89,203.23 L225.28,207.05 L227.64,210.88 L229.96,214.74 L232.26,218.60 L234.53,222.48 L236.77,226.38 L238.97,230.29 L241.15,234.22 L243.30,238.16 L245.41,242.12 L247.50,246.09 L249.56,250.08 L251.58,254.08 L253.58,258.10 L255.54,262.13 L257.48,266.18 L259.38,270.24 L261.26,274.32 L263.11,278.41 L264.92,282.52 L266.70,286.64 L268.46,290.78 L270.19,294.93 L271.88,299.10 L273.55,303.28 L275.19,307.48 L276.80,311.69 L278.01,311.23 L276.40,307.01 L274.76,302.80 L273.09,298.61 L271.39,294.44 L269.66,290.28 L267.89,286.13 L266.09,282.00 L264.27,277.89 L262.41,273.79 L260.53,269.71 L258.61,265.64 L256.66,261.59 L254.69,257.55 L252.68,253.53 L250.65,249.52 L248.58,245.52 L246.49,241.55 L244.36,237.58 L242.21,233.64 L240.02,229.70 L237.81,225.79 L235.56,221.88 L233.29,218.00 L230.98,214.13 L228.64,210.27 L226.28,206.43 L223.88,202.60 L221.46,198.79 Z" fill="#e03038" fill-opacity="0.95" />
<path d="M240.26,189.07 L242.35,192.69 L244.50,196.25 L246.71,199.75 L248.98,203.19 L251.30,206.56 L253.69,209.87 L256.14,213.12 L258.65,216.31 L261.22,219.44 L263.85,222.50 L266.53,225.51 L269.28,228.45 L272.09,231.33 L274.96,234.14 L277.89,236.90 L280.87,239.59 L283.92,242.22 L287.03,244.79 L290.19,247.30 L293.42,249.75 L296.71,252.13 L300.05,254.46 L303.45,256.72 L306.93,258.91 L310.47,261.03 L314.06,263.09 L317.72,265.08 L321.43,267.02 L322.02,265.86 L318.33,263.94 L314.70,261.95 L311.12,259.91 L307.61,257.80 L304.16,255.63 L300.75,253.41 L297.41,251.14 L294.12,248.80 L290.89,246.39 L287.73,243.92 L284.62,241.39 L281.57,238.79 L278.58,236.13 L275.66,233.41 L272.79,230.63 L269.98,227.78 L267.23,224.87 L264.54,221.90 L261.90,218.86 L259.33,215.76 L256.82,212.60 L254.36,209.37 L251.97,206.09 L249.64,202.74 L247.36,199.32 L245.14,195.85 L242.99,192.31 L240.89,188.71 Z" fill="#80b54d" fill-opacity="0.95" />
<path d="M196.41,258.30 L200.95,257.94 L205.49,257.59 L210.04,257.26 L214.58,256.94 L219.12,256.64 L223.67,256.36 L228.21,256.08 L232.76,255.83 L237.31,255.58 L241.85,255.36 L246.40,255.14 L250.95,254.95 L255.50,254.76 L260.05,254.59 L264.60,254.44 L269.15,254.29 L273.70,254.16 L278.25,254.05 L282.80,253.98 L287.35,253.92 L291.91,253.88 L296.46,253.85 L301.02,253.84 L305.57,253.85 L310.13,253.86 L314.68,253.90 L319.24,253.95 L323.80,254.01 L323.82,252.71 L319.26,252.65 L314.69,252.60 L310.13,252.56 L305.57,252.55 L301.02,252.54 L296.46,252.55 L291.90,252.58 L287.34,252.62 L282.78,252.68 L278.23,252.76 L273.67,252.83 L269.11,252.90 L264.56,253.00 L260.00,253.11 L255.44,253.24 L250.89,253.39 L246.33,253.55 L241.78,253.73 L237.23,253.92 L232.67,254.13 L228.12,254.36 L223.57,254.60 L219.01,254.86 L214.46,255.13 L209.91,255.42 L205.36,255.72 L200.81,256.04 L196.26,256.37 Z" fill="#2c3f9e" fill-opacity="0.95" />
<path d="M198.30,231.34 L202.17,233.31 L206.01,235.32 L209.80,237.39 L213.56,239.50 L217.29,241.66 L220.97,243.87 L224.62,246.13 L228.23,248.43 L231.81,250.78 L235.35,253.18 L238.85,255.63 L242.32,258.13 L245.76,260.67 L249.16,263.26 L252.52,265.89 L255.86,268.56 L259.17,271.27 L262.42,274.07 L265.58,276.97 L268.69,279.92 L271.77,282.91 L274.82,285.96 L277.82,289.05 L280.78,292.19 L283.70,295.38 L286.59,298.62 L289.44,301.91 L292.24,305.25 L293.24,304.42 L290.42,301.07 L287.57,297.76 L284.67,294.51 L281.73,291.31 L278.76,288.15 L275.74,285.04 L272.69,281.99 L269.59,278.98 L266.46,276.02 L263.29,273.10 L260.13,270.19 L256.96,267.28 L253.73,264.43 L250.45,261.64 L247.13,258.90 L243.77,256.22 L240.36,253.58 L236.91,250.99 L233.42,248.45 L229.89,245.97 L226.31,243.53 L222.69,241.14 L219.03,238.80 L215.33,236.51 L211.59,234.26 L207.81,232.07 L203.98,229.93 L200.12,227.83 Z" fill="#e6e020" fill-opacity="0.95" />
<path d="M196.28,256.08 L199.83,254.69 L203.29,253.22 L206.66,251.67 L209.95,250.04 L213.15,248.32 L216.27,246.52 L219.31,244.64 L222.26,242.68 L225.12,240.64 L227.91,238.51 L230.60,236.31 L233.21,234.02 L235.74,231.64 L238.18,229.19 L240.54,226.65 L242.81,224.03 L245.00,221.33 L247.10,218.55 L249.12,215.68 L251.05,212.74 L252.90,209.71 L254.67,206.60 L256.35,203.40 L257.93,200.12 L259.42,196.75 L260.82,193.30 L262.14,189.77 L263.37,186.16 L262.13,185.76 L260.91,189.34 L259.61,192.83 L258.22,196.24 L256.75,199.57 L255.19,202.82 L253.56,206.00 L251.86,209.10 L250.07,212.12 L248.18,215.05 L246.22,217.91 L244.16,220.68 L242.02,223.38 L239.79,225.99 L237.48,228.52 L235.08,230.97 L232.59,233.34 L230.02,235.63 L227.37,237.84 L224.62,239.96 L221.79,242.01 L218.88,243.98 L215.88,245.86 L212.79,247.67 L209.61,249.39 L206.35,251.03 L203.01,252.59 L199.57,254.08 L196.06,255.48 Z" fill="#2c3f9e" fill-opacity="0.95" />
<path d="M245.24,187.88 L246.29,190.29 L247.34,192.52 L248.40,194.59 L249.47,196.48 L250.56,198.20 L251.65,199.75 L252.76,201.13 L253.88,202.34 L255.02,203.37 L256.18,204.22 L257.36,204.88 L258.56,205.35 L259.78,205.63 L260.99,205.69 L262.18,205.55 L263.35,205.21 L264.47,204.67 L265.57,204.00 L266.69,203.19 L267.81,202.22 L268.91,201.07 L270.02,199.76 L271.12,198.27 L272.22,196.61 L273.33,194.78 L274.43,192.77 L275.54,190.59 L276.65,188.24 L275.47,187.70 L274.37,190.02 L273.28,192.16 L272.20,194.13 L271.12,195.91 L270.06,197.52 L269.00,198.95 L267.95,200.21 L266.91,201.28 L265.88,202.18 L264.88,202.90 L263.86,203.39 L262.87,203.68 L261.93,203.81 L261.03,203.79 L260.16,203.63 L259.30,203.33 L258.43,202.88 L257.55,202.27 L256.66,201.49 L255.76,200.55 L254.85,199.43 L253.93,198.13 L253.01,196.66 L252.08,195.01 L251.15,193.18 L250.23,191.18 L249.30,188.99 L248.37,186.63 Z" fill="#2e6b1e" fill-opacity="0.95" />
<path d="M217.63,202.00 L220.91,204.20 L224.21,206.30 L227.54,208.30 L230.89,210.19 L234.26,211.97 L237.66,213.65 L241.08,215.23 L244.52,216.70 L247.99,218.07 L251.48,219.33 L254.99,220.48 L258.52,221.53 L262.08,222.48 L265.67,223.32 L269.27,224.05 L272.90,224.68 L276.55,225.21 L280.23,225.63 L283.93,225.94 L287.65,226.16 L291.40,226.26 L295.16,226.27 L298.96,226.16 L302.77,225.94 L306.61,225.61 L310.47,225.18 L314.35,224.64 L318.25,224.00 L318.02,222.72 L314.15,223.36 L310.30,223.89 L306.48,224.32 L302.68,224.64 L298.90,224.86 L295.14,224.99 L291.41,225.02 L287.70,224.93 L284.01,224.75 L280.34,224.45 L276.70,224.06 L273.08,223.55 L269.48,222.94 L265.90,222.23 L262.35,221.41 L258.82,220.49 L255.31,219.46 L251.82,218.33 L248.35,217.09 L244.91,215.75 L241.49,214.30 L238.09,212.75 L234.71,211.09 L231.36,209.33 L228.02,207.46 L224.71,205.49 L221.42,203.41 L218.16,201.23 Z" fill="#a04fa8" fill-opacity="0.95" />
<path d="M250.21,177.75 A72.8,72.8 0 0 1 257.80,177.13 L257.98,183.23 A66.7,66.7 0 0 0 251.02,183.79 Z" fill="#a5641a" stroke="#663e10" stroke-width="0.35"/>
<path d="M241.18,179.55 A72.8,72.8 0 0 1 248.32,178.03 L249.29,184.05 A66.7,66.7 0 0 0 242.75,185.44 Z" fill="#2e6b1e" stroke="#1c4212" stroke-width="0.35"/>
<path d="M232.10,182.62 A72.8,72.8 0 0 1 239.35,180.06 L241.07,185.91 A66.7,66.7 0 0 0 234.43,188.25 Z" fill="#6aa82e" stroke="#41681c" stroke-width="0.35"/>
<path d="M223.12,187.08 A72.8,72.8 0 0 1 230.35,183.37 L232.82,188.94 A66.7,66.7 0 0 0 226.20,192.34 Z" fill="#d81e2c" stroke="#85121b" stroke-width="0.35"/>
<path d="M214.63,192.89 A72.8,72.8 0 0 1 221.48,188.06 L224.70,193.24 A66.7,66.7 0 0 0 218.42,197.66 Z" fill="#e03038" stroke="#8a1d22" stroke-width="0.35"/>
<path d="M207.09,199.79 A72.8,72.8 0 0 1 213.15,194.09 L217.07,198.77 A66.7,66.7 0 0 0 211.52,203.99 Z" fill="#a04fa8" stroke="#633068" stroke-width="0.35"/>
<path d="M200.89,207.26 A72.8,72.8 0 0 1 205.80,201.19 L210.33,205.27 A66.7,66.7 0 0 0 205.84,210.84 Z" fill="#f3b4d4" stroke="#966f83" stroke-width="0.35"/>
<path d="M195.98,215.05 A72.8,72.8 0 0 1 199.80,208.82 L204.83,212.26 A66.7,66.7 0 0 0 201.34,217.97 Z" fill="#f08a2c" stroke="#94551b" stroke-width="0.35"/>
<path d="M192.40,222.63 A72.8,72.8 0 0 1 195.09,216.74 L200.52,219.52 A66.7,66.7 0 0 0 198.06,224.91 Z" fill="#f8b820" stroke="#997213" stroke-width="0.35"/>
<path d="M189.92,229.83 A72.8,72.8 0 0 1 191.71,224.40 L197.42,226.54 A66.7,66.7 0 0 0 195.78,231.51 Z" fill="#e6e020" stroke="#8e8a13" stroke-width="0.35"/>
<path d="M188.24,237.07 A72.8,72.8 0 0 1 189.42,231.67 L195.32,233.20 A66.7,66.7 0 0 0 194.24,238.15 Z" fill="#a4cf2a" stroke="#65801a" stroke-width="0.35"/>
<path d="M187.28,244.76 A72.8,72.8 0 0 1 187.93,238.95 L193.96,239.87 A66.7,66.7 0 0 0 193.37,245.19 Z" fill="#3fae2e" stroke="#276b1c" stroke-width="0.35"/>
<path d="M187.18,253.33 A72.8,72.8 0 0 1 187.17,246.66 L193.27,246.93 A66.7,66.7 0 0 0 193.27,253.04 Z" fill="#1f9e3a" stroke="#136123" stroke-width="0.35"/>
<path d="M188.08,261.79 A72.8,72.8 0 0 1 187.30,255.23 L193.38,254.78 A66.7,66.7 0 0 0 194.10,260.79 Z" fill="#2c3f9e" stroke="#1b2761" stroke-width="0.35"/>
<path d="M189.89,269.84 A72.8,72.8 0 0 1 188.41,263.67 L194.40,262.51 A66.7,66.7 0 0 0 195.75,268.17 Z" fill="#4a8fd0" stroke="#2d5880" stroke-width="0.35"/>
<path d="M192.64,277.76 A72.8,72.8 0 0 1 190.43,271.67 L196.25,269.85 A66.7,66.7 0 0 0 198.28,275.42 Z" fill="#7cc4e8" stroke="#4c798f" stroke-width="0.35"/>
<path d="M196.29,285.31 A72.8,72.8 0 0 1 193.39,279.51 L198.97,277.03 A66.7,66.7 0 0 0 201.62,282.34 Z" fill="#3fb8b0" stroke="#27726d" stroke-width="0.35"/>
<path d="M200.82,292.43 A72.8,72.8 0 0 1 197.24,286.96 L202.49,283.85 A66.7,66.7 0 0 0 205.77,288.87 Z" fill="#a0d8d0" stroke="#638580" stroke-width="0.35"/>
<path d="M205.93,298.75 A72.8,72.8 0 0 1 201.95,293.97 L206.81,290.27 A66.7,66.7 0 0 0 210.45,294.66 Z" fill="#4a2d8c" stroke="#2d1b56" stroke-width="0.35"/>
<path d="M211.71,304.47 A72.8,72.8 0 0 1 207.22,300.15 L211.64,295.94 A66.7,66.7 0 0 0 215.75,299.89 Z" fill="#6848a8" stroke="#402c68" stroke-width="0.35"/>
<path d="M217.94,309.39 A72.8,72.8 0 0 1 213.15,305.71 L217.07,301.03 A66.7,66.7 0 0 0 221.45,304.40 Z" fill="#a890cc" stroke="#68597e" stroke-width="0.35"/>
<path d="M224.00,313.23 A72.8,72.8 0 0 1 219.51,310.47 L222.89,305.39 A66.7,66.7 0 0 0 227.00,307.92 Z" fill="#2f5f5c" stroke="#1d3a39" stroke-width="0.35"/>
<path d="M230.23,316.38 A72.8,72.8 0 0 1 225.67,314.15 L228.53,308.77 A66.7,66.7 0 0 0 232.72,310.81 Z" fill="#7fa8a8" stroke="#4e6868" stroke-width="0.35"/>
<path d="M237.10,319.04 A72.8,72.8 0 0 1 231.98,317.13 L234.32,311.50 A66.7,66.7 0 0 0 239.01,313.24 Z" fill="#b8d4d4" stroke="#728383" stroke-width="0.35"/>
<path d="M244.70,321.10 A72.8,72.8 0 0 1 238.92,319.61 L240.68,313.77 A66.7,66.7 0 0 0 245.98,315.13 Z" fill="#1fa8b8" stroke="#136872" stroke-width="0.35"/>
<path d="M260.09,177.10 A72.8,72.8 0 0 1 266.18,177.37 L265.66,183.45 A66.7,66.7 0 0 0 260.07,183.20 Z" fill="#a5641a" stroke="#663e10" stroke-width="0.35"/>
<path d="M268.08,177.56 A72.8,72.8 0 0 1 273.92,178.46 L272.74,184.45 A66.7,66.7 0 0 0 267.39,183.62 Z" fill="#a5641a" stroke="#663e10" stroke-width="0.35"/>
<path d="M275.78,178.85 A72.8,72.8 0 0 1 280.76,180.15 L279.01,186.00 A66.7,66.7 0 0 0 274.45,184.81 Z" fill="#2e6b1e" stroke="#1c4212" stroke-width="0.35"/>
<path d="M282.58,180.72 A72.8,72.8 0 0 1 286.34,182.07 L284.13,187.76 A66.7,66.7 0 0 0 280.68,186.52 Z" fill="#2a5f1c" stroke="#1a3a11" stroke-width="0.35"/>
<path d="M288.11,182.79 A72.8,72.8 0 0 1 292.10,184.61 L289.40,190.08 A66.7,66.7 0 0 0 285.75,188.41 Z" fill="#6aa82e" stroke="#41681c" stroke-width="0.35"/>
<path d="M293.80,185.47 A72.8,72.8 0 0 1 298.37,188.09 L295.15,193.27 A66.7,66.7 0 0 0 290.96,190.87 Z" fill="#6aa82e" stroke="#41681c" stroke-width="0.35"/>
<path d="M299.97,189.12 A72.8,72.8 0 0 1 303.76,191.80 L300.09,196.67 A66.7,66.7 0 0 0 296.62,194.22 Z" fill="#d81e2c" stroke="#85121b" stroke-width="0.35"/>
<path d="M305.27,192.97 A72.8,72.8 0 0 1 308.38,195.59 L304.31,200.14 A66.7,66.7 0 0 0 301.47,197.74 Z" fill="#d81e2c" stroke="#85121b" stroke-width="0.35"/>
<path d="M309.78,196.87 A72.8,72.8 0 0 1 312.71,199.79 L308.28,203.99 A66.7,66.7 0 0 0 305.60,201.32 Z" fill="#e03038" stroke="#8a1d22" stroke-width="0.35"/>
<path d="M314.00,201.19 A72.8,72.8 0 0 1 316.76,204.43 L311.99,208.24 A66.7,66.7 0 0 0 309.47,205.27 Z" fill="#e4484a" stroke="#8d2c2d" stroke-width="0.35"/>
<path d="M317.93,205.94 A72.8,72.8 0 0 1 320.22,209.14 L315.16,212.55 A66.7,66.7 0 0 0 313.06,209.62 Z" fill="#a04fa8" stroke="#633068" stroke-width="0.35"/>
<path d="M321.26,210.73 A72.8,72.8 0 0 1 322.79,213.23 L317.52,216.30 A66.7,66.7 0 0 0 316.12,214.01 Z" fill="#8a4090" stroke="#552759" stroke-width="0.35"/>
<path d="M323.73,214.88 A72.8,72.8 0 0 1 324.74,216.79 L319.30,219.57 A66.7,66.7 0 0 0 318.38,217.82 Z" fill="#f3b4d4" stroke="#966f83" stroke-width="0.35"/>
<path d="M325.58,218.50 A72.8,72.8 0 0 1 326.69,220.93 L321.09,223.36 A66.7,66.7 0 0 0 320.08,221.13 Z" fill="#f3b4d4" stroke="#966f83" stroke-width="0.35"/>
<path d="M327.42,222.69 A72.8,72.8 0 0 1 328.73,226.20 L322.97,228.18 A66.7,66.7 0 0 0 321.76,224.97 Z" fill="#f08a2c" stroke="#94551b" stroke-width="0.35"/>
<path d="M329.33,228.01 A72.8,72.8 0 0 1 330.63,232.66 L324.70,234.10 A66.7,66.7 0 0 0 323.51,229.84 Z" fill="#f08a2c" stroke="#94551b" stroke-width="0.35"/>
<path d="M331.06,234.52 A72.8,72.8 0 0 1 331.91,239.20 L325.88,240.10 A66.7,66.7 0 0 0 325.09,235.80 Z" fill="#f8b820" stroke="#997213" stroke-width="0.35"/>
<path d="M332.17,241.09 A72.8,72.8 0 0 1 332.52,244.82 L326.44,245.25 A66.7,66.7 0 0 0 326.11,241.83 Z" fill="#f0d020" stroke="#948013" stroke-width="0.35"/>
<path d="M332.63,246.72 A72.8,72.8 0 0 1 332.70,250.22 L326.60,250.19 A66.7,66.7 0 0 0 326.54,246.99 Z" fill="#d0d828" stroke="#808518" stroke-width="0.35"/>
<path d="M332.67,252.12 A72.8,72.8 0 0 1 332.48,255.55 L326.40,255.08 A66.7,66.7 0 0 0 326.57,251.94 Z" fill="#b8d030" stroke="#72801d" stroke-width="0.35"/>
<path d="M332.31,257.45 A72.8,72.8 0 0 1 331.91,260.60 L325.88,259.70 A66.7,66.7 0 0 0 326.24,256.81 Z" fill="#8cc838" stroke="#567c22" stroke-width="0.35"/>
<path d="M331.61,262.48 A72.8,72.8 0 0 1 331.03,265.41 L325.07,264.11 A66.7,66.7 0 0 0 325.60,261.43 Z" fill="#48b030" stroke="#2c6d1d" stroke-width="0.35"/>
<path d="M330.60,267.27 A72.8,72.8 0 0 1 329.83,270.15 L323.97,268.45 A66.7,66.7 0 0 0 324.67,265.81 Z" fill="#2ea838" stroke="#1c6822" stroke-width="0.35"/>
<path d="M329.27,271.97 A72.8,72.8 0 0 1 328.40,274.56 L322.66,272.49 A66.7,66.7 0 0 0 323.46,270.12 Z" fill="#22a038" stroke="#156322" stroke-width="0.35"/>
<path d="M327.73,276.34 A72.8,72.8 0 0 1 326.71,278.81 L321.11,276.39 A66.7,66.7 0 0 0 322.04,274.13 Z" fill="#1a9038" stroke="#105922" stroke-width="0.35"/>
<path d="M325.93,280.55 A72.8,72.8 0 0 1 324.27,283.91 L318.87,281.06 A66.7,66.7 0 0 0 320.40,277.98 Z" fill="#1f9e3a" stroke="#136123" stroke-width="0.35"/>
<path d="M323.36,285.58 A72.8,72.8 0 0 1 321.09,289.34 L315.97,286.03 A66.7,66.7 0 0 0 318.04,282.59 Z" fill="#2c3f9e" stroke="#1b2761" stroke-width="0.35"/>
<path d="M320.04,290.92 A72.8,72.8 0 0 1 317.89,293.91 L313.03,290.23 A66.7,66.7 0 0 0 315.00,287.49 Z" fill="#304aa8" stroke="#1d2d68" stroke-width="0.35"/>
<path d="M316.72,295.42 A72.8,72.8 0 0 1 314.42,298.14 L309.86,294.10 A66.7,66.7 0 0 0 311.95,291.60 Z" fill="#4a8fd0" stroke="#2d5880" stroke-width="0.35"/>
<path d="M313.14,299.55 A72.8,72.8 0 0 1 310.56,302.18 L306.32,297.80 A66.7,66.7 0 0 0 308.68,295.39 Z" fill="#70b8e8" stroke="#45728f" stroke-width="0.35"/>
<path d="M309.18,303.49 A72.8,72.8 0 0 1 306.35,305.95 L302.46,301.26 A66.7,66.7 0 0 0 305.05,299.00 Z" fill="#8ccaf0" stroke="#567d94" stroke-width="0.35"/>
<path d="M304.87,307.15 A72.8,72.8 0 0 1 301.19,309.86 L297.73,304.84 A66.7,66.7 0 0 0 301.10,302.35 Z" fill="#3fb8b0" stroke="#27726d" stroke-width="0.35"/>
<path d="M299.60,310.92 A72.8,72.8 0 0 1 294.86,313.76 L291.93,308.41 A66.7,66.7 0 0 0 296.28,305.81 Z" fill="#a0d8d0" stroke="#638580" stroke-width="0.35"/>
<path d="M293.18,314.65 A72.8,72.8 0 0 1 288.70,316.76 L286.28,311.16 A66.7,66.7 0 0 0 290.39,309.22 Z" fill="#4a2d8c" stroke="#2d1b56" stroke-width="0.35"/>
<path d="M286.94,317.49 A72.8,72.8 0 0 1 283.42,318.80 L281.45,313.02 A66.7,66.7 0 0 0 284.67,311.83 Z" fill="#6848a8" stroke="#402c68" stroke-width="0.35"/>
<path d="M281.61,319.39 A72.8,72.8 0 0 1 278.00,320.41 L276.49,314.50 A66.7,66.7 0 0 0 279.79,313.57 Z" fill="#a890cc" stroke="#68597e" stroke-width="0.35"/>
<path d="M276.15,320.86 A72.8,72.8 0 0 1 271.10,321.83 L270.16,315.81 A66.7,66.7 0 0 0 274.79,314.92 Z" fill="#2f5f5c" stroke="#1d3a39" stroke-width="0.35"/>
<path d="M269.21,322.10 A72.8,72.8 0 0 1 263.65,322.60 L263.33,316.51 A66.7,66.7 0 0 0 268.43,316.05 Z" fill="#7fa8a8" stroke="#4e6868" stroke-width="0.35"/>
<path d="M261.74,322.68 A72.8,72.8 0 0 1 256.72,322.63 L256.99,316.54 A66.7,66.7 0 0 0 261.59,316.58 Z" fill="#b8d4d4" stroke="#728383" stroke-width="0.35"/>
<path d="M254.82,322.52 A72.8,72.8 0 0 1 246.13,321.39 L247.29,315.40 A66.7,66.7 0 0 0 255.25,316.44 Z" fill="#1fa8b8" stroke="#136872" stroke-width="0.35"/>
<text x="253.27" y="170.98" transform="rotate(-4.8 253.27 170.98)" font-family="Liberation Serif, serif" font-size="3.9" fill="#111" text-anchor="middle" dominant-baseline="central">1</text>
<text x="243.43" y="172.43" transform="rotate(-12.0 243.43 172.43)" font-family="Liberation Serif, serif" font-size="3.9" fill="#111" text-anchor="middle" dominant-baseline="central">2</text>
<text x="233.72" y="175.15" transform="rotate(-19.3 233.72 175.15)" font-family="Liberation Serif, serif" font-size="3.9" fill="#111" text-anchor="middle" dominant-baseline="central">3</text>
<text x="223.82" y="179.40" transform="rotate(-27.1 223.82 179.40)" font-family="Liberation Serif, serif" font-size="3.9" fill="#111" text-anchor="middle" dominant-baseline="central">4</text>
<text x="214.36" y="185.10" transform="rotate(-35.1 214.36 185.10)" font-family="Liberation Serif, serif" font-size="3.9" fill="#111" text-anchor="middle" dominant-baseline="central">5</text>
<text x="205.58" y="192.26" transform="rotate(-43.3 205.58 192.26)" font-family="Liberation Serif, serif" font-size="3.9" fill="#111" text-anchor="middle" dominant-baseline="central">6</text>
<text x="198.18" y="200.27" transform="rotate(-51.2 198.18 200.27)" font-family="Liberation Serif, serif" font-size="3.9" fill="#111" text-anchor="middle" dominant-baseline="central">7</text>
<text x="192.30" y="208.64" transform="rotate(-58.6 192.30 208.64)" font-family="Liberation Serif, serif" font-size="3.9" fill="#111" text-anchor="middle" dominant-baseline="central">8</text>
<text x="187.72" y="217.31" transform="rotate(-65.7 187.72 217.31)" font-family="Liberation Serif, serif" font-size="3.9" fill="#111" text-anchor="middle" dominant-baseline="central">9</text>
<text x="184.66" y="225.16" transform="rotate(-71.8 184.66 225.16)" font-family="Liberation Serif, serif" font-size="3.9" fill="#111" text-anchor="middle" dominant-baseline="central">10</text>
<text x="182.52" y="233.03" transform="rotate(-77.7 182.52 233.03)" font-family="Liberation Serif, serif" font-size="3.9" fill="#111" text-anchor="middle" dominant-baseline="central">11</text>
<text x="181.21" y="240.93" transform="rotate(-83.5 181.21 240.93)" font-family="Liberation Serif, serif" font-size="3.9" fill="#111" text-anchor="middle" dominant-baseline="central">12</text>
<text x="180.70" y="249.76" transform="rotate(-89.9 180.70 249.76)" font-family="Liberation Serif, serif" font-size="3.9" fill="#111" text-anchor="middle" dominant-baseline="central">13</text>
<text x="181.29" y="259.55" transform="rotate(83.0 181.29 259.55)" font-family="Liberation Serif, serif" font-size="3.9" fill="#111" text-anchor="middle" dominant-baseline="central">14</text>
<text x="182.82" y="268.12" transform="rotate(76.7 182.82 268.12)" font-family="Liberation Serif, serif" font-size="3.9" fill="#111" text-anchor="middle" dominant-baseline="central">15</text>
<text x="185.48" y="276.99" transform="rotate(70.0 185.48 276.99)" font-family="Liberation Serif, serif" font-size="3.9" fill="#111" text-anchor="middle" dominant-baseline="central">16</text>
<text x="189.02" y="285.24" transform="rotate(63.5 189.02 285.24)" font-family="Liberation Serif, serif" font-size="3.9" fill="#111" text-anchor="middle" dominant-baseline="central">17</text>
<text x="193.63" y="293.27" transform="rotate(56.8 193.63 293.27)" font-family="Liberation Serif, serif" font-size="3.9" fill="#111" text-anchor="middle" dominant-baseline="central">18</text>
<text x="199.05" y="300.60" transform="rotate(50.2 199.05 300.60)" font-family="Liberation Serif, serif" font-size="3.9" fill="#111" text-anchor="middle" dominant-baseline="central">19</text>
<text x="204.88" y="306.87" transform="rotate(44.0 204.88 306.87)" font-family="Liberation Serif, serif" font-size="3.9" fill="#111" text-anchor="middle" dominant-baseline="central">20</text>
<text x="211.80" y="312.82" transform="rotate(37.4 211.80 312.82)" font-family="Liberation Serif, serif" font-size="3.9" fill="#111" text-anchor="middle" dominant-baseline="central">21</text>
<text x="218.52" y="317.43" transform="rotate(31.5 218.52 317.43)" font-family="Liberation Serif, serif" font-size="3.9" fill="#111" text-anchor="middle" dominant-baseline="central">22</text>
<text x="225.06" y="321.02" transform="rotate(26.1 225.06 321.02)" font-family="Liberation Serif, serif" font-size="3.9" fill="#111" text-anchor="middle" dominant-baseline="central">23</text>
<text x="232.16" y="324.08" transform="rotate(20.5 232.16 324.08)" font-family="Liberation Serif, serif" font-size="3.9" fill="#111" text-anchor="middle" dominant-baseline="central">24</text>
<text x="240.07" y="326.58" transform="rotate(14.5 240.07 326.58)" font-family="Liberation Serif, serif" font-size="3.9" fill="#111" text-anchor="middle" dominant-baseline="central">25</text>
<text x="263.49" y="170.78" transform="rotate(2.6 263.49 170.78)" font-family="Liberation Serif, serif" font-size="3.9" fill="#111" text-anchor="middle" dominant-baseline="central">1</text>
<text x="272.02" y="171.63" transform="rotate(8.8 272.02 171.63)" font-family="Liberation Serif, serif" font-size="3.9" fill="#111" text-anchor="middle" dominant-baseline="central">2</text>
<text x="280.26" y="173.36" transform="rotate(14.9 280.26 173.36)" font-family="Liberation Serif, serif" font-size="3.9" fill="#111" text-anchor="middle" dominant-baseline="central">3</text>
<text x="286.86" y="175.43" transform="rotate(19.9 286.86 175.43)" font-family="Liberation Serif, serif" font-size="3.9" fill="#111" text-anchor="middle" dominant-baseline="central">4</text>
<text x="292.37" y="177.66" transform="rotate(24.2 292.37 177.66)" font-family="Liberation Serif, serif" font-size="3.9" fill="#111" text-anchor="middle" dominant-baseline="central">5</text>
<text x="299.26" y="181.17" transform="rotate(29.8 299.26 181.17)" font-family="Liberation Serif, serif" font-size="3.9" fill="#111" text-anchor="middle" dominant-baseline="central">6</text>
<text x="305.89" y="185.42" transform="rotate(35.5 305.89 185.42)" font-family="Liberation Serif, serif" font-size="3.9" fill="#111" text-anchor="middle" dominant-baseline="central">7</text>
<text x="310.91" y="189.32" transform="rotate(40.1 310.91 189.32)" font-family="Liberation Serif, serif" font-size="3.9" fill="#111" text-anchor="middle" dominant-baseline="central">8</text>
<text x="315.81" y="193.80" transform="rotate(44.9 315.81 193.80)" font-family="Liberation Serif, serif" font-size="3.9" fill="#111" text-anchor="middle" dominant-baseline="central">9</text>
<text x="320.21" y="198.57" transform="rotate(49.6 320.21 198.57)" font-family="Liberation Serif, serif" font-size="3.9" fill="#111" text-anchor="middle" dominant-baseline="central">10</text>
<text x="324.46" y="204.02" transform="rotate(54.6 324.46 204.02)" font-family="Liberation Serif, serif" font-size="3.9" fill="#111" text-anchor="middle" dominant-baseline="central">11</text>
<text x="327.64" y="208.87" transform="rotate(58.8 327.64 208.87)" font-family="Liberation Serif, serif" font-size="3.9" fill="#111" text-anchor="middle" dominant-baseline="central">12</text>
<text x="329.96" y="212.96" transform="rotate(62.2 329.96 212.96)" font-family="Liberation Serif, serif" font-size="3.9" fill="#111" text-anchor="middle" dominant-baseline="central">13</text>
<text x="331.80" y="216.68" transform="rotate(65.2 331.80 216.68)" font-family="Liberation Serif, serif" font-size="3.9" fill="#111" text-anchor="middle" dominant-baseline="central">14</text>
<text x="334.04" y="222.03" transform="rotate(69.4 334.04 222.03)" font-family="Liberation Serif, serif" font-size="3.9" fill="#111" text-anchor="middle" dominant-baseline="central">15</text>
<text x="336.07" y="228.20" transform="rotate(74.1 336.07 228.20)" font-family="Liberation Serif, serif" font-size="3.9" fill="#111" text-anchor="middle" dominant-baseline="central">16</text>
<text x="337.90" y="236.15" transform="rotate(80.0 337.90 236.15)" font-family="Liberation Serif, serif" font-size="3.9" fill="#111" text-anchor="middle" dominant-baseline="central">17</text>
<text x="338.75" y="242.45" transform="rotate(84.6 338.75 242.45)" font-family="Liberation Serif, serif" font-size="3.9" fill="#111" text-anchor="middle" dominant-baseline="central">18</text>
<text x="339.09" y="248.38" transform="rotate(88.9 339.09 248.38)" font-family="Liberation Serif, serif" font-size="3.9" fill="#111" text-anchor="middle" dominant-baseline="central">19</text>
<text x="338.98" y="254.18" transform="rotate(-86.9 338.98 254.18)" font-family="Liberation Serif, serif" font-size="3.9" fill="#111" text-anchor="middle" dominant-baseline="central">20</text>
<text x="338.46" y="259.96" transform="rotate(-82.7 338.46 259.96)" font-family="Liberation Serif, serif" font-size="3.9" fill="#111" text-anchor="middle" dominant-baseline="central">21</text>
<text x="337.62" y="265.15" transform="rotate(-78.9 337.62 265.15)" font-family="Liberation Serif, serif" font-size="3.9" fill="#111" text-anchor="middle" dominant-baseline="central">22</text>
<text x="336.40" y="270.40" transform="rotate(-75.0 336.40 270.40)" font-family="Liberation Serif, serif" font-size="3.9" fill="#111" text-anchor="middle" dominant-baseline="central">23</text>
<text x="334.87" y="275.42" transform="rotate(-71.2 334.87 275.42)" font-family="Liberation Serif, serif" font-size="3.9" fill="#111" text-anchor="middle" dominant-baseline="central">24</text>
<text x="333.18" y="279.95" transform="rotate(-67.7 333.18 279.95)" font-family="Liberation Serif, serif" font-size="3.9" fill="#111" text-anchor="middle" dominant-baseline="central">25</text>
<text x="331.08" y="284.62" transform="rotate(-64.0 331.08 284.62)" font-family="Liberation Serif, serif" font-size="3.9" fill="#111" text-anchor="middle" dominant-baseline="central">26</text>
<text x="327.64" y="290.93" transform="rotate(-58.8 327.64 290.93)" font-family="Liberation Serif, serif" font-size="3.9" fill="#111" text-anchor="middle" dominant-baseline="central">27</text>
<text x="324.06" y="296.34" transform="rotate(-54.1 324.06 296.34)" font-family="Liberation Serif, serif" font-size="3.9" fill="#111" text-anchor="middle" dominant-baseline="central">28</text>
<text x="320.57" y="300.81" transform="rotate(-50.0 320.57 300.81)" font-family="Liberation Serif, serif" font-size="3.9" fill="#111" text-anchor="middle" dominant-baseline="central">29</text>
<text x="316.39" y="305.41" transform="rotate(-45.5 316.39 305.41)" font-family="Liberation Serif, serif" font-size="3.9" fill="#111" text-anchor="middle" dominant-baseline="central">30</text>
<text x="312.07" y="309.49" transform="rotate(-41.2 312.07 309.49)" font-family="Liberation Serif, serif" font-size="3.9" fill="#111" text-anchor="middle" dominant-baseline="central">31</text>
<text x="307.12" y="313.48" transform="rotate(-36.6 307.12 313.48)" font-family="Liberation Serif, serif" font-size="3.9" fill="#111" text-anchor="middle" dominant-baseline="central">32</text>
<text x="300.69" y="317.79" transform="rotate(-31.0 300.69 317.79)" font-family="Liberation Serif, serif" font-size="3.9" fill="#111" text-anchor="middle" dominant-baseline="central">33</text>
<text x="293.25" y="321.74" transform="rotate(-24.9 293.25 321.74)" font-family="Liberation Serif, serif" font-size="3.9" fill="#111" text-anchor="middle" dominant-baseline="central">34</text>
<text x="287.25" y="324.23" transform="rotate(-20.2 287.25 324.23)" font-family="Liberation Serif, serif" font-size="3.9" fill="#111" text-anchor="middle" dominant-baseline="central">35</text>
<text x="281.73" y="326.03" transform="rotate(-16.0 281.73 326.03)" font-family="Liberation Serif, serif" font-size="3.9" fill="#111" text-anchor="middle" dominant-baseline="central">36</text>
<text x="275.42" y="327.56" transform="rotate(-11.3 275.42 327.56)" font-family="Liberation Serif, serif" font-size="3.9" fill="#111" text-anchor="middle" dominant-baseline="central">37</text>
<text x="266.67" y="328.81" transform="rotate(-4.9 266.67 328.81)" font-family="Liberation Serif, serif" font-size="3.9" fill="#111" text-anchor="middle" dominant-baseline="central">38</text>
<text x="259.21" y="329.10" transform="rotate(0.5 259.21 329.10)" font-family="Liberation Serif, serif" font-size="3.9" fill="#111" text-anchor="middle" dominant-baseline="central">39</text>
<text x="249.43" y="328.40" transform="rotate(7.6 249.43 328.40)" font-family="Liberation Serif, serif" font-size="3.9" fill="#111" text-anchor="middle" dominant-baseline="central">40</text>
<text x="186" y="352.0" font-family="Liberation Serif, serif" font-size="8.15" fill="#111">Gene Collinearity of zebrafish and grass carp</text>
<text x="195.4" y="172" font-family="Liberation Serif, serif" font-size="5.4" fill="#111">zbrafish</text>
<text x="308.2" y="172" font-family="Liberation Serif, serif" font-size="5.5" fill="#111">grass carp</text>
<rect x="387.4" y="2.8" width="94.5" height="9.3" rx="1.6" fill="#fff" stroke="#a9d8ea" stroke-width="0.65"/>
<text x="389.4" y="9.0" font-family="Liberation Sans, sans-serif" font-size="5.3" fill="#9a9a9a">Marker Name</text>
<rect x="487.0" y="1.9" width="31.2" height="10.0" rx="1.6" fill="#38aed4"/>
<text x="502.9" y="8.9" font-family="Liberation Sans, sans-serif" font-size="5.35" fill="#f2fbff" text-anchor="middle">Search</text>
<rect x="401.3" y="24.2" width="28.7" height="9.4" rx="0.8" fill="#fff" stroke="#b5b5b5" stroke-width="0.6"/>
<text x="405.2" y="31.4" font-family="Liberation Serif, serif" font-size="7.1" fill="#111">LG3</text>
<path d="M421.3,27.5 h4.5 l-2.25,3.6 z" fill="#111"/>
<text x="363.0" y="46.00" font-family="Liberation Serif, serif" font-size="5.0" fill="#222" stroke="#222" stroke-width="0.22" text-anchor="end">0</text>
<text x="467.6" y="46.00" font-family="Liberation Serif, serif" font-size="4.8" fill="#222" stroke="#222" stroke-width="0.15">CID0904</text>
<polyline points="367.0,44.30 394.0,44.30 406.3,73.20 412.6,73.20" fill="none" stroke="#222" stroke-width="1.0" stroke-linejoin="miter"/>
<polyline points="464.2,44.30 437.0,44.30 424.8,73.20 419.0,73.20" fill="none" stroke="#222" stroke-width="1.0" stroke-linejoin="miter"/>
<text x="363.0" y="53.26" font-family="Liberation Serif, serif" font-size="5.0" fill="#222" stroke="#222" stroke-width="0.22" text-anchor="end">16.8</text>
<text x="467.6" y="53.26" font-family="Liberation Serif, serif" font-size="4.8" fill="#222" stroke="#222" stroke-width="0.15">CID0972</text>
<polyline points="367.0,51.56 394.0,51.56 405.1,134.25 412.6,134.25" fill="none" stroke="#222" stroke-width="1.0" stroke-linejoin="miter"/>
<polyline points="464.2,51.56 437.0,51.56 425.3,134.25 419.0,134.25" fill="none" stroke="#222" stroke-width="1.0" stroke-linejoin="miter"/>
<text x="363.0" y="60.52" font-family="Liberation Serif, serif" font-size="5.0" fill="#222" stroke="#222" stroke-width="0.22" text-anchor="end">18.9</text>
<text x="467.6" y="60.52" font-family="Liberation Serif, serif" font-size="4.8" fill="#222" stroke="#222" stroke-width="0.15">CID0818</text>
<polyline points="367.0,58.82 394.0,58.82 405.1,141.88 412.6,141.88" fill="none" stroke="#222" stroke-width="1.0" stroke-linejoin="miter"/>
<polyline points="464.2,58.82 437.0,58.82 425.3,141.88 419.0,141.88" fill="none" stroke="#222" stroke-width="1.0" stroke-linejoin="miter"/>
<text x="363.0" y="67.78" font-family="Liberation Serif, serif" font-size="5.0" fill="#222" stroke="#222" stroke-width="0.22" text-anchor="end">28</text>
<text x="467.6" y="67.78" font-family="Liberation Serif, serif" font-size="4.8" fill="#222" stroke="#222" stroke-width="0.15">CID0050</text>
<polyline points="367.0,66.08 394.0,66.08 405.1,174.95 412.6,174.95" fill="none" stroke="#222" stroke-width="1.0" stroke-linejoin="miter"/>
<polyline points="464.2,66.08 437.0,66.08 425.3,174.95 419.0,174.95" fill="none" stroke="#222" stroke-width="1.0" stroke-linejoin="miter"/>
<text x="363.0" y="82.30" font-family="Liberation Serif, serif" font-size="5.0" fill="#222" stroke="#222" stroke-width="0.22" text-anchor="end">43.5</text>
<text x="467.6" y="82.30" font-family="Liberation Serif, serif" font-size="4.8" fill="#222" stroke="#222" stroke-width="0.15">CID0190</text>
<polyline points="367.0,80.60 394.0,80.60 405.1,231.28 412.6,231.28" fill="none" stroke="#222" stroke-width="1.0" stroke-linejoin="miter"/>
<polyline points="464.2,80.60 437.0,80.60 425.3,231.28 419.0,231.28" fill="none" stroke="#222" stroke-width="1.0" stroke-linejoin="miter"/>
<text x="363.0" y="89.56" font-family="Liberation Serif, serif" font-size="5.0" fill="#222" stroke="#222" stroke-width="0.22" text-anchor="end">47.8</text>
<text x="467.6" y="89.56" font-family="Liberation Serif, serif" font-size="4.8" fill="#222" stroke="#222" stroke-width="0.15">CID1067</text>
<polyline points="367.0,87.86 394.0,87.86 405.1,246.91 412.6,246.91" fill="none" stroke="#222" stroke-width="1.0" stroke-linejoin="miter"/>
<polyline points="464.2,87.86 437.0,87.86 425.3,246.91 419.0,246.91" fill="none" stroke="#222" stroke-width="1.0" stroke-linejoin="miter"/>
<text x="363.0" y="96.82" font-family="Liberation Serif, serif" font-size="5.0" fill="#222" stroke="#222" stroke-width="0.22" text-anchor="end">48.8</text>
<text x="467.6" y="96.82" font-family="Liberation Serif, serif" font-size="4.8" fill="#222" stroke="#222" stroke-width="0.15">CID1506</text>
<polyline points="367.0,95.12 394.0,95.12 405.1,250.54 412.6,250.54" fill="none" stroke="#222" stroke-width="1.0" stroke-linejoin="miter"/>
<polyline points="464.2,95.12 437.0,95.12 425.3,250.54 419.0,250.54" fill="none" stroke="#222" stroke-width="1.0" stroke-linejoin="miter"/>
<text x="363.0" y="104.08" font-family="Liberation Serif, serif" font-size="5.0" fill="#222" stroke="#222" stroke-width="0.22" text-anchor="end">68.5</text>
<text x="467.6" y="104.08" font-family="Liberation Serif, serif" font-size="4.8" fill="#222" stroke="#222" stroke-width="0.15">CID0855</text>
<polyline points="367.0,102.38 394.0,102.38 405.1,322.13 412.6,322.13" fill="none" stroke="#222" stroke-width="1.0" stroke-linejoin="miter"/>
<polyline points="464.2,102.38 437.0,102.38 425.3,322.13 419.0,322.13" fill="none" stroke="#222" stroke-width="1.0" stroke-linejoin="miter"/>
<text x="363.0" y="75.04" font-family="Liberation Serif, serif" font-size="5.0" fill="#e0202a" stroke="#e0202a" stroke-width="0.22" text-anchor="end">34.9</text>
<text x="467.6" y="75.04" font-family="Liberation Serif, serif" font-size="4.8" fill="#e0202a" stroke="#e0202a" stroke-width="0.15">CID1539</text>
<polyline points="367.0,73.34 394.0,73.34 405.1,200.03 412.6,200.03" fill="none" stroke="#e0202a" stroke-width="1.0" stroke-linejoin="miter"/>
<polyline points="464.2,73.34 437.0,73.34 425.3,200.03 419.0,200.03" fill="none" stroke="#e0202a" stroke-width="1.0" stroke-linejoin="miter"/>
<defs><linearGradient id="chr" x1="0" x2="1" y1="0" y2="0"><stop offset="0" stop-color="#3f8fcb"/><stop offset="0.2" stop-color="#5fb0d8"/><stop offset="0.38" stop-color="#a5dfe0"/><stop offset="0.5" stop-color="#c5eedd"/><stop offset="0.65" stop-color="#a0dde2"/><stop offset="0.85" stop-color="#55add8"/><stop offset="1" stop-color="#3f8fcb"/></linearGradient></defs>
<rect x="412.15" y="62.2" width="6.5" height="293.6" rx="3.25" fill="url(#chr)" stroke="#3f93cd" stroke-width="0.5"/>
</svg>
</body></html>
